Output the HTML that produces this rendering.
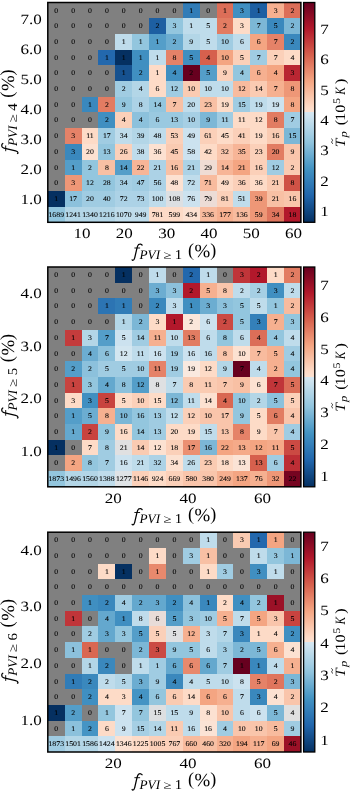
<!DOCTYPE html><html><head><meta charset="utf-8"><style>html,body{margin:0;padding:0;background:#fff;width:350px;height:792px;overflow:hidden}svg{display:block;will-change:transform;text-rendering:geometricPrecision;font-family:"Liberation Serif",serif}</style></head><body>
<svg width="350" height="792" viewBox="0 0 350 792">
<defs><linearGradient id="cb" x1="0" y1="1" x2="0" y2="0">
<stop offset="0.000" stop-color="#053061"/>
<stop offset="0.010" stop-color="#073467"/>
<stop offset="0.020" stop-color="#0a396d"/>
<stop offset="0.030" stop-color="#0c3d73"/>
<stop offset="0.040" stop-color="#0e427a"/>
<stop offset="0.050" stop-color="#104680"/>
<stop offset="0.060" stop-color="#134b86"/>
<stop offset="0.070" stop-color="#154f8c"/>
<stop offset="0.080" stop-color="#175392"/>
<stop offset="0.090" stop-color="#1a5898"/>
<stop offset="0.100" stop-color="#1c5c9e"/>
<stop offset="0.110" stop-color="#1e61a5"/>
<stop offset="0.120" stop-color="#2165ab"/>
<stop offset="0.130" stop-color="#2369ae"/>
<stop offset="0.140" stop-color="#266daf"/>
<stop offset="0.150" stop-color="#2970b1"/>
<stop offset="0.160" stop-color="#2c74b3"/>
<stop offset="0.170" stop-color="#2e78b5"/>
<stop offset="0.180" stop-color="#317bb7"/>
<stop offset="0.190" stop-color="#347fb9"/>
<stop offset="0.200" stop-color="#3783bb"/>
<stop offset="0.210" stop-color="#3a86bd"/>
<stop offset="0.220" stop-color="#3c8abe"/>
<stop offset="0.230" stop-color="#3f8ec0"/>
<stop offset="0.240" stop-color="#4292c2"/>
<stop offset="0.250" stop-color="#4796c4"/>
<stop offset="0.260" stop-color="#4d9ac7"/>
<stop offset="0.270" stop-color="#549ec9"/>
<stop offset="0.280" stop-color="#5aa2cb"/>
<stop offset="0.290" stop-color="#61a6cd"/>
<stop offset="0.300" stop-color="#67aacf"/>
<stop offset="0.310" stop-color="#6eaed2"/>
<stop offset="0.320" stop-color="#74b2d4"/>
<stop offset="0.330" stop-color="#7bb6d6"/>
<stop offset="0.340" stop-color="#81bad8"/>
<stop offset="0.350" stop-color="#88beda"/>
<stop offset="0.360" stop-color="#8ec3dd"/>
<stop offset="0.370" stop-color="#94c6df"/>
<stop offset="0.380" stop-color="#99c9e0"/>
<stop offset="0.390" stop-color="#9ecbe2"/>
<stop offset="0.400" stop-color="#a4cee3"/>
<stop offset="0.410" stop-color="#a9d1e5"/>
<stop offset="0.420" stop-color="#aed3e6"/>
<stop offset="0.430" stop-color="#b3d6e7"/>
<stop offset="0.440" stop-color="#b8d8e9"/>
<stop offset="0.450" stop-color="#bddbea"/>
<stop offset="0.460" stop-color="#c3deec"/>
<stop offset="0.470" stop-color="#c8e0ed"/>
<stop offset="0.480" stop-color="#cde3ef"/>
<stop offset="0.490" stop-color="#d2e5f0"/>
<stop offset="0.500" stop-color="#d5e7f1"/>
<stop offset="0.500" stop-color="#fce1d1"/>
<stop offset="0.510" stop-color="#fcdecd"/>
<stop offset="0.520" stop-color="#fddcc9"/>
<stop offset="0.530" stop-color="#fdd8c3"/>
<stop offset="0.540" stop-color="#fcd4be"/>
<stop offset="0.550" stop-color="#fbcfb8"/>
<stop offset="0.560" stop-color="#facbb2"/>
<stop offset="0.570" stop-color="#fac6ac"/>
<stop offset="0.580" stop-color="#f9c2a6"/>
<stop offset="0.590" stop-color="#f8bda1"/>
<stop offset="0.600" stop-color="#f7b89b"/>
<stop offset="0.610" stop-color="#f6b495"/>
<stop offset="0.620" stop-color="#f6af8f"/>
<stop offset="0.630" stop-color="#f5ab89"/>
<stop offset="0.640" stop-color="#f4a684"/>
<stop offset="0.650" stop-color="#f2a17f"/>
<stop offset="0.660" stop-color="#f09b7a"/>
<stop offset="0.670" stop-color="#ed9576"/>
<stop offset="0.680" stop-color="#eb8f71"/>
<stop offset="0.690" stop-color="#e88a6d"/>
<stop offset="0.700" stop-color="#e68469"/>
<stop offset="0.710" stop-color="#e37e64"/>
<stop offset="0.720" stop-color="#e17860"/>
<stop offset="0.730" stop-color="#de725b"/>
<stop offset="0.740" stop-color="#dc6d57"/>
<stop offset="0.750" stop-color="#d96752"/>
<stop offset="0.760" stop-color="#d6614e"/>
<stop offset="0.770" stop-color="#d45b4b"/>
<stop offset="0.780" stop-color="#d15548"/>
<stop offset="0.790" stop-color="#ce4f45"/>
<stop offset="0.800" stop-color="#ca4942"/>
<stop offset="0.810" stop-color="#c7433f"/>
<stop offset="0.820" stop-color="#c43d3c"/>
<stop offset="0.830" stop-color="#c1373a"/>
<stop offset="0.840" stop-color="#be3137"/>
<stop offset="0.850" stop-color="#bb2b34"/>
<stop offset="0.860" stop-color="#b82531"/>
<stop offset="0.870" stop-color="#b51f2e"/>
<stop offset="0.880" stop-color="#b2192b"/>
<stop offset="0.890" stop-color="#ac162a"/>
<stop offset="0.900" stop-color="#a61429"/>
<stop offset="0.910" stop-color="#a01228"/>
<stop offset="0.920" stop-color="#991027"/>
<stop offset="0.930" stop-color="#930e26"/>
<stop offset="0.940" stop-color="#8d0c25"/>
<stop offset="0.950" stop-color="#860a24"/>
<stop offset="0.960" stop-color="#800823"/>
<stop offset="0.970" stop-color="#7a0622"/>
<stop offset="0.980" stop-color="#740421"/>
<stop offset="0.990" stop-color="#6d0220"/>
<stop offset="1.000" stop-color="#67001f"/>
</linearGradient></defs>
<g shape-rendering="crispEdges">
<rect x="47.80" y="2.50" width="16.87" height="15.70" fill="#808080"/>
<rect x="64.67" y="2.50" width="16.87" height="15.70" fill="#808080"/>
<rect x="81.55" y="2.50" width="16.87" height="15.70" fill="#808080"/>
<rect x="98.42" y="2.50" width="16.87" height="15.70" fill="#808080"/>
<rect x="115.29" y="2.50" width="16.87" height="15.70" fill="#808080"/>
<rect x="132.17" y="2.50" width="16.87" height="15.70" fill="#808080"/>
<rect x="149.04" y="2.50" width="16.87" height="15.70" fill="#808080"/>
<rect x="165.91" y="2.50" width="16.87" height="15.70" fill="#808080"/>
<rect x="182.79" y="2.50" width="16.87" height="15.70" fill="#317cb7"/>
<rect x="199.66" y="2.50" width="16.87" height="15.70" fill="#808080"/>
<rect x="216.53" y="2.50" width="16.87" height="15.70" fill="#dc6e58"/>
<rect x="233.41" y="2.50" width="16.87" height="15.70" fill="#408fc1"/>
<rect x="250.28" y="2.50" width="16.87" height="15.70" fill="#1d5fa2"/>
<rect x="267.15" y="2.50" width="16.87" height="15.70" fill="#f6b090"/>
<rect x="284.03" y="2.50" width="16.87" height="15.70" fill="#dc6e58"/>
<rect x="47.80" y="18.20" width="16.87" height="15.70" fill="#808080"/>
<rect x="64.67" y="18.20" width="16.87" height="15.70" fill="#808080"/>
<rect x="81.55" y="18.20" width="16.87" height="15.70" fill="#808080"/>
<rect x="98.42" y="18.20" width="16.87" height="15.70" fill="#808080"/>
<rect x="115.29" y="18.20" width="16.87" height="15.70" fill="#808080"/>
<rect x="132.17" y="18.20" width="16.87" height="15.70" fill="#808080"/>
<rect x="149.04" y="18.20" width="16.87" height="15.70" fill="#1d5fa2"/>
<rect x="165.91" y="18.20" width="16.87" height="15.70" fill="#93c6de"/>
<rect x="182.79" y="18.20" width="16.87" height="15.70" fill="#bfdceb"/>
<rect x="199.66" y="18.20" width="16.87" height="15.70" fill="#bfdceb"/>
<rect x="216.53" y="18.20" width="16.87" height="15.70" fill="#e27c62"/>
<rect x="233.41" y="18.20" width="16.87" height="15.70" fill="#fddbc7"/>
<rect x="250.28" y="18.20" width="16.87" height="15.70" fill="#7cb7d6"/>
<rect x="267.15" y="18.20" width="16.87" height="15.70" fill="#3a88bd"/>
<rect x="284.03" y="18.20" width="16.87" height="15.70" fill="#7cb7d6"/>
<rect x="47.80" y="33.90" width="16.87" height="15.70" fill="#808080"/>
<rect x="64.67" y="33.90" width="16.87" height="15.70" fill="#808080"/>
<rect x="81.55" y="33.90" width="16.87" height="15.70" fill="#808080"/>
<rect x="98.42" y="33.90" width="16.87" height="15.70" fill="#808080"/>
<rect x="115.29" y="33.90" width="16.87" height="15.70" fill="#bfdceb"/>
<rect x="132.17" y="33.90" width="16.87" height="15.70" fill="#93c6de"/>
<rect x="149.04" y="33.90" width="16.87" height="15.70" fill="#549ec9"/>
<rect x="165.91" y="33.90" width="16.87" height="15.70" fill="#6cadd1"/>
<rect x="182.79" y="33.90" width="16.87" height="15.70" fill="#b3d6e7"/>
<rect x="199.66" y="33.90" width="16.87" height="15.70" fill="#bfdceb"/>
<rect x="216.53" y="33.90" width="16.87" height="15.70" fill="#a0cce2"/>
<rect x="233.41" y="33.90" width="16.87" height="15.70" fill="#bfdceb"/>
<rect x="250.28" y="33.90" width="16.87" height="15.70" fill="#f4a582"/>
<rect x="267.15" y="33.90" width="16.87" height="15.70" fill="#e58268"/>
<rect x="284.03" y="33.90" width="16.87" height="15.70" fill="#3a88bd"/>
<rect x="47.80" y="49.60" width="16.87" height="15.70" fill="#808080"/>
<rect x="64.67" y="49.60" width="16.87" height="15.70" fill="#808080"/>
<rect x="81.55" y="49.60" width="16.87" height="15.70" fill="#808080"/>
<rect x="98.42" y="49.60" width="16.87" height="15.70" fill="#2368ad"/>
<rect x="115.29" y="49.60" width="16.87" height="15.70" fill="#053061"/>
<rect x="132.17" y="49.60" width="16.87" height="15.70" fill="#408fc1"/>
<rect x="149.04" y="49.60" width="16.87" height="15.70" fill="#bfdceb"/>
<rect x="165.91" y="49.60" width="16.87" height="15.70" fill="#e58268"/>
<rect x="182.79" y="49.60" width="16.87" height="15.70" fill="#408fc1"/>
<rect x="199.66" y="49.60" width="16.87" height="15.70" fill="#d6604d"/>
<rect x="216.53" y="49.60" width="16.87" height="15.70" fill="#f4a582"/>
<rect x="233.41" y="49.60" width="16.87" height="15.70" fill="#fbd0b9"/>
<rect x="250.28" y="49.60" width="16.87" height="15.70" fill="#a0cce2"/>
<rect x="267.15" y="49.60" width="16.87" height="15.70" fill="#fbd0b9"/>
<rect x="284.03" y="49.60" width="16.87" height="15.70" fill="#fddbc7"/>
<rect x="47.80" y="65.30" width="16.87" height="15.70" fill="#808080"/>
<rect x="64.67" y="65.30" width="16.87" height="15.70" fill="#808080"/>
<rect x="81.55" y="65.30" width="16.87" height="15.70" fill="#808080"/>
<rect x="98.42" y="65.30" width="16.87" height="15.70" fill="#808080"/>
<rect x="115.29" y="65.30" width="16.87" height="15.70" fill="#16518f"/>
<rect x="132.17" y="65.30" width="16.87" height="15.70" fill="#408fc1"/>
<rect x="149.04" y="65.30" width="16.87" height="15.70" fill="#fddbc7"/>
<rect x="165.91" y="65.30" width="16.87" height="15.70" fill="#408fc1"/>
<rect x="182.79" y="65.30" width="16.87" height="15.70" fill="#67001f"/>
<rect x="199.66" y="65.30" width="16.87" height="15.70" fill="#549ec9"/>
<rect x="216.53" y="65.30" width="16.87" height="15.70" fill="#fbd0b9"/>
<rect x="233.41" y="65.30" width="16.87" height="15.70" fill="#93c6de"/>
<rect x="250.28" y="65.30" width="16.87" height="15.70" fill="#f6b090"/>
<rect x="267.15" y="65.30" width="16.87" height="15.70" fill="#f4a582"/>
<rect x="284.03" y="65.30" width="16.87" height="15.70" fill="#b92632"/>
<rect x="47.80" y="81.00" width="16.87" height="15.70" fill="#808080"/>
<rect x="64.67" y="81.00" width="16.87" height="15.70" fill="#808080"/>
<rect x="81.55" y="81.00" width="16.87" height="15.70" fill="#808080"/>
<rect x="98.42" y="81.00" width="16.87" height="15.70" fill="#808080"/>
<rect x="115.29" y="81.00" width="16.87" height="15.70" fill="#a0cce2"/>
<rect x="132.17" y="81.00" width="16.87" height="15.70" fill="#b3d6e7"/>
<rect x="149.04" y="81.00" width="16.87" height="15.70" fill="#fddbc7"/>
<rect x="165.91" y="81.00" width="16.87" height="15.70" fill="#a0cce2"/>
<rect x="182.79" y="81.00" width="16.87" height="15.70" fill="#facbb2"/>
<rect x="199.66" y="81.00" width="16.87" height="15.70" fill="#bfdceb"/>
<rect x="216.53" y="81.00" width="16.87" height="15.70" fill="#bfdceb"/>
<rect x="233.41" y="81.00" width="16.87" height="15.70" fill="#f8bb9e"/>
<rect x="250.28" y="81.00" width="16.87" height="15.70" fill="#facbb2"/>
<rect x="267.15" y="81.00" width="16.87" height="15.70" fill="#f6b090"/>
<rect x="284.03" y="81.00" width="16.87" height="15.70" fill="#ee9777"/>
<rect x="47.80" y="96.70" width="16.87" height="15.70" fill="#808080"/>
<rect x="64.67" y="96.70" width="16.87" height="15.70" fill="#808080"/>
<rect x="81.55" y="96.70" width="16.87" height="15.70" fill="#3a88bd"/>
<rect x="98.42" y="96.70" width="16.87" height="15.70" fill="#e27c62"/>
<rect x="115.29" y="96.70" width="16.87" height="15.70" fill="#93c6de"/>
<rect x="132.17" y="96.70" width="16.87" height="15.70" fill="#acd2e6"/>
<rect x="149.04" y="96.70" width="16.87" height="15.70" fill="#93c6de"/>
<rect x="165.91" y="96.70" width="16.87" height="15.70" fill="#f8c0a4"/>
<rect x="182.79" y="96.70" width="16.87" height="15.70" fill="#bfdceb"/>
<rect x="199.66" y="96.70" width="16.87" height="15.70" fill="#f8c0a4"/>
<rect x="216.53" y="96.70" width="16.87" height="15.70" fill="#fddbc7"/>
<rect x="233.41" y="96.70" width="16.87" height="15.70" fill="#a0cce2"/>
<rect x="250.28" y="96.70" width="16.87" height="15.70" fill="#bfdceb"/>
<rect x="267.15" y="96.70" width="16.87" height="15.70" fill="#cce2ef"/>
<rect x="284.03" y="96.70" width="16.87" height="15.70" fill="#f4a582"/>
<rect x="47.80" y="112.40" width="16.87" height="15.70" fill="#808080"/>
<rect x="64.67" y="112.40" width="16.87" height="15.70" fill="#808080"/>
<rect x="81.55" y="112.40" width="16.87" height="15.70" fill="#808080"/>
<rect x="98.42" y="112.40" width="16.87" height="15.70" fill="#408fc1"/>
<rect x="115.29" y="112.40" width="16.87" height="15.70" fill="#fbd0b9"/>
<rect x="132.17" y="112.40" width="16.87" height="15.70" fill="#8cc1dc"/>
<rect x="149.04" y="112.40" width="16.87" height="15.70" fill="#9ac9e0"/>
<rect x="165.91" y="112.40" width="16.87" height="15.70" fill="#9ac9e0"/>
<rect x="182.79" y="112.40" width="16.87" height="15.70" fill="#a6cfe4"/>
<rect x="199.66" y="112.40" width="16.87" height="15.70" fill="#7cb7d6"/>
<rect x="216.53" y="112.40" width="16.87" height="15.70" fill="#a0cce2"/>
<rect x="233.41" y="112.40" width="16.87" height="15.70" fill="#fddbc7"/>
<rect x="250.28" y="112.40" width="16.87" height="15.70" fill="#fddbc7"/>
<rect x="267.15" y="112.40" width="16.87" height="15.70" fill="#e27c62"/>
<rect x="284.03" y="112.40" width="16.87" height="15.70" fill="#a0cce2"/>
<rect x="47.80" y="128.10" width="16.87" height="15.70" fill="#808080"/>
<rect x="64.67" y="128.10" width="16.87" height="15.70" fill="#e58268"/>
<rect x="81.55" y="128.10" width="16.87" height="15.70" fill="#fddbc7"/>
<rect x="98.42" y="128.10" width="16.87" height="15.70" fill="#a0cce2"/>
<rect x="115.29" y="128.10" width="16.87" height="15.70" fill="#bfdceb"/>
<rect x="132.17" y="128.10" width="16.87" height="15.70" fill="#b3d6e7"/>
<rect x="149.04" y="128.10" width="16.87" height="15.70" fill="#bfdceb"/>
<rect x="165.91" y="128.10" width="16.87" height="15.70" fill="#fbd0b9"/>
<rect x="182.79" y="128.10" width="16.87" height="15.70" fill="#cce2ef"/>
<rect x="199.66" y="128.10" width="16.87" height="15.70" fill="#fbd0b9"/>
<rect x="216.53" y="128.10" width="16.87" height="15.70" fill="#fddbc7"/>
<rect x="233.41" y="128.10" width="16.87" height="15.70" fill="#fbd0b9"/>
<rect x="250.28" y="128.10" width="16.87" height="15.70" fill="#fddbc7"/>
<rect x="267.15" y="128.10" width="16.87" height="15.70" fill="#facbb2"/>
<rect x="284.03" y="128.10" width="16.87" height="15.70" fill="#7cb7d6"/>
<rect x="47.80" y="143.80" width="16.87" height="15.70" fill="#808080"/>
<rect x="64.67" y="143.80" width="16.87" height="15.70" fill="#3a88bd"/>
<rect x="81.55" y="143.80" width="16.87" height="15.70" fill="#fce1d1"/>
<rect x="98.42" y="143.80" width="16.87" height="15.70" fill="#93c6de"/>
<rect x="115.29" y="143.80" width="16.87" height="15.70" fill="#fbd0b9"/>
<rect x="132.17" y="143.80" width="16.87" height="15.70" fill="#bfdceb"/>
<rect x="149.04" y="143.80" width="16.87" height="15.70" fill="#fce1d1"/>
<rect x="165.91" y="143.80" width="16.87" height="15.70" fill="#facbb2"/>
<rect x="182.79" y="143.80" width="16.87" height="15.70" fill="#cce2ef"/>
<rect x="199.66" y="143.80" width="16.87" height="15.70" fill="#fddbc7"/>
<rect x="216.53" y="143.80" width="16.87" height="15.70" fill="#f9c5ab"/>
<rect x="233.41" y="143.80" width="16.87" height="15.70" fill="#f7b597"/>
<rect x="250.28" y="143.80" width="16.87" height="15.70" fill="#fbd0b9"/>
<rect x="267.15" y="143.80" width="16.87" height="15.70" fill="#e27c62"/>
<rect x="284.03" y="143.80" width="16.87" height="15.70" fill="#f9c5ab"/>
<rect x="47.80" y="159.50" width="16.87" height="15.70" fill="#808080"/>
<rect x="64.67" y="159.50" width="16.87" height="15.70" fill="#549ec9"/>
<rect x="81.55" y="159.50" width="16.87" height="15.70" fill="#93c6de"/>
<rect x="98.42" y="159.50" width="16.87" height="15.70" fill="#f8c0a4"/>
<rect x="115.29" y="159.50" width="16.87" height="15.70" fill="#549ec9"/>
<rect x="132.17" y="159.50" width="16.87" height="15.70" fill="#f7b597"/>
<rect x="149.04" y="159.50" width="16.87" height="15.70" fill="#acd2e6"/>
<rect x="165.91" y="159.50" width="16.87" height="15.70" fill="#f8c0a4"/>
<rect x="182.79" y="159.50" width="16.87" height="15.70" fill="#acd2e6"/>
<rect x="199.66" y="159.50" width="16.87" height="15.70" fill="#efdcd4"/>
<rect x="216.53" y="159.50" width="16.87" height="15.70" fill="#f7b597"/>
<rect x="233.41" y="159.50" width="16.87" height="15.70" fill="#f4a582"/>
<rect x="250.28" y="159.50" width="16.87" height="15.70" fill="#fbd0b9"/>
<rect x="267.15" y="159.50" width="16.87" height="15.70" fill="#a0cce2"/>
<rect x="284.03" y="159.50" width="16.87" height="15.70" fill="#facbb2"/>
<rect x="47.80" y="175.20" width="16.87" height="15.70" fill="#808080"/>
<rect x="64.67" y="175.20" width="16.87" height="15.70" fill="#ee9777"/>
<rect x="81.55" y="175.20" width="16.87" height="15.70" fill="#93c6de"/>
<rect x="98.42" y="175.20" width="16.87" height="15.70" fill="#93c6de"/>
<rect x="115.29" y="175.20" width="16.87" height="15.70" fill="#a6cfe4"/>
<rect x="132.17" y="175.20" width="16.87" height="15.70" fill="#a0cce2"/>
<rect x="149.04" y="175.20" width="16.87" height="15.70" fill="#acd2e6"/>
<rect x="165.91" y="175.20" width="16.87" height="15.70" fill="#fce1d1"/>
<rect x="182.79" y="175.20" width="16.87" height="15.70" fill="#bfdceb"/>
<rect x="199.66" y="175.20" width="16.87" height="15.70" fill="#f8bb9e"/>
<rect x="216.53" y="175.20" width="16.87" height="15.70" fill="#fddbc7"/>
<rect x="233.41" y="175.20" width="16.87" height="15.70" fill="#fbd0b9"/>
<rect x="250.28" y="175.20" width="16.87" height="15.70" fill="#fddbc7"/>
<rect x="267.15" y="175.20" width="16.87" height="15.70" fill="#facbb2"/>
<rect x="284.03" y="175.20" width="16.87" height="15.70" fill="#cf5246"/>
<rect x="47.80" y="190.90" width="16.87" height="15.70" fill="#053061"/>
<rect x="64.67" y="190.90" width="16.87" height="15.70" fill="#8cc1dc"/>
<rect x="81.55" y="190.90" width="16.87" height="15.70" fill="#a0cce2"/>
<rect x="98.42" y="190.90" width="16.87" height="15.70" fill="#a0cce2"/>
<rect x="115.29" y="190.90" width="16.87" height="15.70" fill="#acd2e6"/>
<rect x="132.17" y="190.90" width="16.87" height="15.70" fill="#acd2e6"/>
<rect x="149.04" y="190.90" width="16.87" height="15.70" fill="#bfdceb"/>
<rect x="165.91" y="190.90" width="16.87" height="15.70" fill="#dcdfe2"/>
<rect x="182.79" y="190.90" width="16.87" height="15.70" fill="#cce2ef"/>
<rect x="199.66" y="190.90" width="16.87" height="15.70" fill="#ecdcd6"/>
<rect x="216.53" y="190.90" width="16.87" height="15.70" fill="#fbd0b9"/>
<rect x="233.41" y="190.90" width="16.87" height="15.70" fill="#bfdceb"/>
<rect x="250.28" y="190.90" width="16.87" height="15.70" fill="#ee9777"/>
<rect x="267.15" y="190.90" width="16.87" height="15.70" fill="#f8c0a4"/>
<rect x="284.03" y="190.90" width="16.87" height="15.70" fill="#f9c5ab"/>
<rect x="47.80" y="206.60" width="16.87" height="15.70" fill="#93c6de"/>
<rect x="64.67" y="206.60" width="16.87" height="15.70" fill="#b3d6e7"/>
<rect x="81.55" y="206.60" width="16.87" height="15.70" fill="#b3d6e7"/>
<rect x="98.42" y="206.60" width="16.87" height="15.70" fill="#b3d6e7"/>
<rect x="115.29" y="206.60" width="16.87" height="15.70" fill="#bfdceb"/>
<rect x="132.17" y="206.60" width="16.87" height="15.70" fill="#bfdceb"/>
<rect x="149.04" y="206.60" width="16.87" height="15.70" fill="#fddbc7"/>
<rect x="165.91" y="206.60" width="16.87" height="15.70" fill="#fddbc7"/>
<rect x="182.79" y="206.60" width="16.87" height="15.70" fill="#fce1d1"/>
<rect x="199.66" y="206.60" width="16.87" height="15.70" fill="#f8bb9e"/>
<rect x="216.53" y="206.60" width="16.87" height="15.70" fill="#f6b090"/>
<rect x="233.41" y="206.60" width="16.87" height="15.70" fill="#f8bb9e"/>
<rect x="250.28" y="206.60" width="16.87" height="15.70" fill="#ee9777"/>
<rect x="267.15" y="206.60" width="16.87" height="15.70" fill="#df755d"/>
<rect x="284.03" y="206.60" width="16.87" height="15.70" fill="#b2182b"/>
</g>
<g font-size="7.1" text-anchor="middle" fill="#000" stroke="#000" stroke-width="0.08">
<text transform="translate(56.24,12.55) scale(1.1,1)">0</text>
<text transform="translate(73.11,12.55) scale(1.1,1)">0</text>
<text transform="translate(89.98,12.55) scale(1.1,1)">0</text>
<text transform="translate(106.86,12.55) scale(1.1,1)">0</text>
<text transform="translate(123.73,12.55) scale(1.1,1)">0</text>
<text transform="translate(140.60,12.55) scale(1.1,1)">0</text>
<text transform="translate(157.48,12.55) scale(1.1,1)">0</text>
<text transform="translate(174.35,12.55) scale(1.1,1)">0</text>
<text transform="translate(191.22,12.55) scale(1.1,1)">1</text>
<text transform="translate(208.10,12.55) scale(1.1,1)">0</text>
<text transform="translate(224.97,12.55) scale(1.1,1)">1</text>
<text transform="translate(241.84,12.55) scale(1.1,1)">3</text>
<text transform="translate(258.72,12.55) scale(1.1,1)">1</text>
<text transform="translate(275.59,12.55) scale(1.1,1)">3</text>
<text transform="translate(292.46,12.55) scale(1.1,1)">2</text>
<text transform="translate(56.24,28.25) scale(1.1,1)">0</text>
<text transform="translate(73.11,28.25) scale(1.1,1)">0</text>
<text transform="translate(89.98,28.25) scale(1.1,1)">0</text>
<text transform="translate(106.86,28.25) scale(1.1,1)">0</text>
<text transform="translate(123.73,28.25) scale(1.1,1)">0</text>
<text transform="translate(140.60,28.25) scale(1.1,1)">0</text>
<text transform="translate(157.48,28.25) scale(1.1,1)">2</text>
<text transform="translate(174.35,28.25) scale(1.1,1)">3</text>
<text transform="translate(191.22,28.25) scale(1.1,1)">1</text>
<text transform="translate(208.10,28.25) scale(1.1,1)">5</text>
<text transform="translate(224.97,28.25) scale(1.1,1)">2</text>
<text transform="translate(241.84,28.25) scale(1.1,1)">3</text>
<text transform="translate(258.72,28.25) scale(1.1,1)">7</text>
<text transform="translate(275.59,28.25) scale(1.1,1)">5</text>
<text transform="translate(292.46,28.25) scale(1.1,1)">2</text>
<text transform="translate(56.24,43.95) scale(1.1,1)">0</text>
<text transform="translate(73.11,43.95) scale(1.1,1)">0</text>
<text transform="translate(89.98,43.95) scale(1.1,1)">0</text>
<text transform="translate(106.86,43.95) scale(1.1,1)">0</text>
<text transform="translate(123.73,43.95) scale(1.1,1)">1</text>
<text transform="translate(140.60,43.95) scale(1.1,1)">1</text>
<text transform="translate(157.48,43.95) scale(1.1,1)">1</text>
<text transform="translate(174.35,43.95) scale(1.1,1)">2</text>
<text transform="translate(191.22,43.95) scale(1.1,1)">9</text>
<text transform="translate(208.10,43.95) scale(1.1,1)">5</text>
<text transform="translate(224.97,43.95) scale(1.1,1)">10</text>
<text transform="translate(241.84,43.95) scale(1.1,1)">6</text>
<text transform="translate(258.72,43.95) scale(1.1,1)">6</text>
<text transform="translate(275.59,43.95) scale(1.1,1)">7</text>
<text transform="translate(292.46,43.95) scale(1.1,1)">2</text>
<text transform="translate(56.24,59.65) scale(1.1,1)">0</text>
<text transform="translate(73.11,59.65) scale(1.1,1)">0</text>
<text transform="translate(89.98,59.65) scale(1.1,1)">0</text>
<text transform="translate(106.86,59.65) scale(1.1,1)">1</text>
<text transform="translate(123.73,59.65) scale(1.1,1)">1</text>
<text transform="translate(140.60,59.65) scale(1.1,1)">1</text>
<text transform="translate(157.48,59.65) scale(1.1,1)">1</text>
<text transform="translate(174.35,59.65) scale(1.1,1)">8</text>
<text transform="translate(191.22,59.65) scale(1.1,1)">5</text>
<text transform="translate(208.10,59.65) scale(1.1,1)">4</text>
<text transform="translate(224.97,59.65) scale(1.1,1)">10</text>
<text transform="translate(241.84,59.65) scale(1.1,1)">5</text>
<text transform="translate(258.72,59.65) scale(1.1,1)">7</text>
<text transform="translate(275.59,59.65) scale(1.1,1)">7</text>
<text transform="translate(292.46,59.65) scale(1.1,1)">4</text>
<text transform="translate(56.24,75.35) scale(1.1,1)">0</text>
<text transform="translate(73.11,75.35) scale(1.1,1)">0</text>
<text transform="translate(89.98,75.35) scale(1.1,1)">0</text>
<text transform="translate(106.86,75.35) scale(1.1,1)">0</text>
<text transform="translate(123.73,75.35) scale(1.1,1)">1</text>
<text transform="translate(140.60,75.35) scale(1.1,1)">2</text>
<text transform="translate(157.48,75.35) scale(1.1,1)">1</text>
<text transform="translate(174.35,75.35) scale(1.1,1)">4</text>
<text transform="translate(191.22,75.35) scale(1.1,1)">2</text>
<text transform="translate(208.10,75.35) scale(1.1,1)">5</text>
<text transform="translate(224.97,75.35) scale(1.1,1)">9</text>
<text transform="translate(241.84,75.35) scale(1.1,1)">4</text>
<text transform="translate(258.72,75.35) scale(1.1,1)">6</text>
<text transform="translate(275.59,75.35) scale(1.1,1)">4</text>
<text transform="translate(292.46,75.35) scale(1.1,1)">3</text>
<text transform="translate(56.24,91.05) scale(1.1,1)">0</text>
<text transform="translate(73.11,91.05) scale(1.1,1)">0</text>
<text transform="translate(89.98,91.05) scale(1.1,1)">0</text>
<text transform="translate(106.86,91.05) scale(1.1,1)">0</text>
<text transform="translate(123.73,91.05) scale(1.1,1)">2</text>
<text transform="translate(140.60,91.05) scale(1.1,1)">4</text>
<text transform="translate(157.48,91.05) scale(1.1,1)">6</text>
<text transform="translate(174.35,91.05) scale(1.1,1)">12</text>
<text transform="translate(191.22,91.05) scale(1.1,1)">10</text>
<text transform="translate(208.10,91.05) scale(1.1,1)">10</text>
<text transform="translate(224.97,91.05) scale(1.1,1)">10</text>
<text transform="translate(241.84,91.05) scale(1.1,1)">12</text>
<text transform="translate(258.72,91.05) scale(1.1,1)">14</text>
<text transform="translate(275.59,91.05) scale(1.1,1)">7</text>
<text transform="translate(292.46,91.05) scale(1.1,1)">8</text>
<text transform="translate(56.24,106.75) scale(1.1,1)">0</text>
<text transform="translate(73.11,106.75) scale(1.1,1)">0</text>
<text transform="translate(89.98,106.75) scale(1.1,1)">1</text>
<text transform="translate(106.86,106.75) scale(1.1,1)">2</text>
<text transform="translate(123.73,106.75) scale(1.1,1)">9</text>
<text transform="translate(140.60,106.75) scale(1.1,1)">8</text>
<text transform="translate(157.48,106.75) scale(1.1,1)">14</text>
<text transform="translate(174.35,106.75) scale(1.1,1)">7</text>
<text transform="translate(191.22,106.75) scale(1.1,1)">20</text>
<text transform="translate(208.10,106.75) scale(1.1,1)">23</text>
<text transform="translate(224.97,106.75) scale(1.1,1)">19</text>
<text transform="translate(241.84,106.75) scale(1.1,1)">15</text>
<text transform="translate(258.72,106.75) scale(1.1,1)">19</text>
<text transform="translate(275.59,106.75) scale(1.1,1)">19</text>
<text transform="translate(292.46,106.75) scale(1.1,1)">8</text>
<text transform="translate(56.24,122.45) scale(1.1,1)">0</text>
<text transform="translate(73.11,122.45) scale(1.1,1)">0</text>
<text transform="translate(89.98,122.45) scale(1.1,1)">0</text>
<text transform="translate(106.86,122.45) scale(1.1,1)">2</text>
<text transform="translate(123.73,122.45) scale(1.1,1)">4</text>
<text transform="translate(140.60,122.45) scale(1.1,1)">4</text>
<text transform="translate(157.48,122.45) scale(1.1,1)">6</text>
<text transform="translate(174.35,122.45) scale(1.1,1)">13</text>
<text transform="translate(191.22,122.45) scale(1.1,1)">10</text>
<text transform="translate(208.10,122.45) scale(1.1,1)">9</text>
<text transform="translate(224.97,122.45) scale(1.1,1)">11</text>
<text transform="translate(241.84,122.45) scale(1.1,1)">11</text>
<text transform="translate(258.72,122.45) scale(1.1,1)">12</text>
<text transform="translate(275.59,122.45) scale(1.1,1)">8</text>
<text transform="translate(292.46,122.45) scale(1.1,1)">7</text>
<text transform="translate(56.24,138.15) scale(1.1,1)">0</text>
<text transform="translate(73.11,138.15) scale(1.1,1)">3</text>
<text transform="translate(89.98,138.15) scale(1.1,1)">11</text>
<text transform="translate(106.86,138.15) scale(1.1,1)">17</text>
<text transform="translate(123.73,138.15) scale(1.1,1)">34</text>
<text transform="translate(140.60,138.15) scale(1.1,1)">39</text>
<text transform="translate(157.48,138.15) scale(1.1,1)">48</text>
<text transform="translate(174.35,138.15) scale(1.1,1)">53</text>
<text transform="translate(191.22,138.15) scale(1.1,1)">49</text>
<text transform="translate(208.10,138.15) scale(1.1,1)">61</text>
<text transform="translate(224.97,138.15) scale(1.1,1)">45</text>
<text transform="translate(241.84,138.15) scale(1.1,1)">41</text>
<text transform="translate(258.72,138.15) scale(1.1,1)">19</text>
<text transform="translate(275.59,138.15) scale(1.1,1)">16</text>
<text transform="translate(292.46,138.15) scale(1.1,1)">15</text>
<text transform="translate(56.24,153.85) scale(1.1,1)">0</text>
<text transform="translate(73.11,153.85) scale(1.1,1)">3</text>
<text transform="translate(89.98,153.85) scale(1.1,1)">20</text>
<text transform="translate(106.86,153.85) scale(1.1,1)">13</text>
<text transform="translate(123.73,153.85) scale(1.1,1)">26</text>
<text transform="translate(140.60,153.85) scale(1.1,1)">38</text>
<text transform="translate(157.48,153.85) scale(1.1,1)">36</text>
<text transform="translate(174.35,153.85) scale(1.1,1)">45</text>
<text transform="translate(191.22,153.85) scale(1.1,1)">58</text>
<text transform="translate(208.10,153.85) scale(1.1,1)">42</text>
<text transform="translate(224.97,153.85) scale(1.1,1)">32</text>
<text transform="translate(241.84,153.85) scale(1.1,1)">35</text>
<text transform="translate(258.72,153.85) scale(1.1,1)">23</text>
<text transform="translate(275.59,153.85) scale(1.1,1)">20</text>
<text transform="translate(292.46,153.85) scale(1.1,1)">9</text>
<text transform="translate(56.24,169.55) scale(1.1,1)">0</text>
<text transform="translate(73.11,169.55) scale(1.1,1)">1</text>
<text transform="translate(89.98,169.55) scale(1.1,1)">2</text>
<text transform="translate(106.86,169.55) scale(1.1,1)">8</text>
<text transform="translate(123.73,169.55) scale(1.1,1)">14</text>
<text transform="translate(140.60,169.55) scale(1.1,1)">22</text>
<text transform="translate(157.48,169.55) scale(1.1,1)">21</text>
<text transform="translate(174.35,169.55) scale(1.1,1)">16</text>
<text transform="translate(191.22,169.55) scale(1.1,1)">21</text>
<text transform="translate(208.10,169.55) scale(1.1,1)">29</text>
<text transform="translate(224.97,169.55) scale(1.1,1)">14</text>
<text transform="translate(241.84,169.55) scale(1.1,1)">21</text>
<text transform="translate(258.72,169.55) scale(1.1,1)">16</text>
<text transform="translate(275.59,169.55) scale(1.1,1)">12</text>
<text transform="translate(292.46,169.55) scale(1.1,1)">2</text>
<text transform="translate(56.24,185.25) scale(1.1,1)">0</text>
<text transform="translate(73.11,185.25) scale(1.1,1)">3</text>
<text transform="translate(89.98,185.25) scale(1.1,1)">12</text>
<text transform="translate(106.86,185.25) scale(1.1,1)">28</text>
<text transform="translate(123.73,185.25) scale(1.1,1)">34</text>
<text transform="translate(140.60,185.25) scale(1.1,1)">47</text>
<text transform="translate(157.48,185.25) scale(1.1,1)">56</text>
<text transform="translate(174.35,185.25) scale(1.1,1)">48</text>
<text transform="translate(191.22,185.25) scale(1.1,1)">72</text>
<text transform="translate(208.10,185.25) scale(1.1,1)">71</text>
<text transform="translate(224.97,185.25) scale(1.1,1)">49</text>
<text transform="translate(241.84,185.25) scale(1.1,1)">36</text>
<text transform="translate(258.72,185.25) scale(1.1,1)">36</text>
<text transform="translate(275.59,185.25) scale(1.1,1)">21</text>
<text transform="translate(292.46,185.25) scale(1.1,1)">8</text>
<text transform="translate(56.24,200.95) scale(1.1,1)">1</text>
<text transform="translate(73.11,200.95) scale(1.1,1)">17</text>
<text transform="translate(89.98,200.95) scale(1.1,1)">20</text>
<text transform="translate(106.86,200.95) scale(1.1,1)">40</text>
<text transform="translate(123.73,200.95) scale(1.1,1)">72</text>
<text transform="translate(140.60,200.95) scale(1.1,1)">73</text>
<text transform="translate(157.48,200.95) scale(1.1,1)">100</text>
<text transform="translate(174.35,200.95) scale(1.1,1)">108</text>
<text transform="translate(191.22,200.95) scale(1.1,1)">76</text>
<text transform="translate(208.10,200.95) scale(1.1,1)">79</text>
<text transform="translate(224.97,200.95) scale(1.1,1)">81</text>
<text transform="translate(241.84,200.95) scale(1.1,1)">51</text>
<text transform="translate(258.72,200.95) scale(1.1,1)">39</text>
<text transform="translate(275.59,200.95) scale(1.1,1)">21</text>
<text transform="translate(292.46,200.95) scale(1.1,1)">16</text>
<text transform="translate(56.24,216.65) scale(1.1,1)">1689</text>
<text transform="translate(73.11,216.65) scale(1.1,1)">1241</text>
<text transform="translate(89.98,216.65) scale(1.1,1)">1340</text>
<text transform="translate(106.86,216.65) scale(1.1,1)">1216</text>
<text transform="translate(123.73,216.65) scale(1.1,1)">1070</text>
<text transform="translate(140.60,216.65) scale(1.1,1)">949</text>
<text transform="translate(157.48,216.65) scale(1.1,1)">781</text>
<text transform="translate(174.35,216.65) scale(1.1,1)">599</text>
<text transform="translate(191.22,216.65) scale(1.1,1)">434</text>
<text transform="translate(208.10,216.65) scale(1.1,1)">336</text>
<text transform="translate(224.97,216.65) scale(1.1,1)">177</text>
<text transform="translate(241.84,216.65) scale(1.1,1)">136</text>
<text transform="translate(258.72,216.65) scale(1.1,1)">59</text>
<text transform="translate(275.59,216.65) scale(1.1,1)">34</text>
<text transform="translate(292.46,216.65) scale(1.1,1)">18</text>
</g>
<rect x="47.80" y="2.50" width="253.10" height="219.80" fill="none" stroke="#000" stroke-width="1.5"/>
<g shape-rendering="crispEdges">
<rect x="47.80" y="267.00" width="16.87" height="15.70" fill="#808080"/>
<rect x="64.67" y="267.00" width="16.87" height="15.70" fill="#808080"/>
<rect x="81.55" y="267.00" width="16.87" height="15.70" fill="#808080"/>
<rect x="98.42" y="267.00" width="16.87" height="15.70" fill="#808080"/>
<rect x="115.29" y="267.00" width="16.87" height="15.70" fill="#053061"/>
<rect x="132.17" y="267.00" width="16.87" height="15.70" fill="#808080"/>
<rect x="149.04" y="267.00" width="16.87" height="15.70" fill="#bfdceb"/>
<rect x="165.91" y="267.00" width="16.87" height="15.70" fill="#808080"/>
<rect x="182.79" y="267.00" width="16.87" height="15.70" fill="#2368ad"/>
<rect x="199.66" y="267.00" width="16.87" height="15.70" fill="#bfdceb"/>
<rect x="216.53" y="267.00" width="16.87" height="15.70" fill="#808080"/>
<rect x="233.41" y="267.00" width="16.87" height="15.70" fill="#c03539"/>
<rect x="250.28" y="267.00" width="16.87" height="15.70" fill="#b2182b"/>
<rect x="267.15" y="267.00" width="16.87" height="15.70" fill="#fddbc7"/>
<rect x="284.03" y="267.00" width="16.87" height="15.70" fill="#e27c62"/>
<rect x="47.80" y="282.70" width="16.87" height="15.70" fill="#808080"/>
<rect x="64.67" y="282.70" width="16.87" height="15.70" fill="#808080"/>
<rect x="81.55" y="282.70" width="16.87" height="15.70" fill="#808080"/>
<rect x="98.42" y="282.70" width="16.87" height="15.70" fill="#808080"/>
<rect x="115.29" y="282.70" width="16.87" height="15.70" fill="#808080"/>
<rect x="132.17" y="282.70" width="16.87" height="15.70" fill="#808080"/>
<rect x="149.04" y="282.70" width="16.87" height="15.70" fill="#6cadd1"/>
<rect x="165.91" y="282.70" width="16.87" height="15.70" fill="#8cc1dc"/>
<rect x="182.79" y="282.70" width="16.87" height="15.70" fill="#b2182b"/>
<rect x="199.66" y="282.70" width="16.87" height="15.70" fill="#f6b090"/>
<rect x="216.53" y="282.70" width="16.87" height="15.70" fill="#f9c5ab"/>
<rect x="233.41" y="282.70" width="16.87" height="15.70" fill="#bfdceb"/>
<rect x="250.28" y="282.70" width="16.87" height="15.70" fill="#a6cfe4"/>
<rect x="267.15" y="282.70" width="16.87" height="15.70" fill="#408fc1"/>
<rect x="284.03" y="282.70" width="16.87" height="15.70" fill="#bfdceb"/>
<rect x="47.80" y="298.40" width="16.87" height="15.70" fill="#808080"/>
<rect x="64.67" y="298.40" width="16.87" height="15.70" fill="#808080"/>
<rect x="81.55" y="298.40" width="16.87" height="15.70" fill="#808080"/>
<rect x="98.42" y="298.40" width="16.87" height="15.70" fill="#2c74b3"/>
<rect x="115.29" y="298.40" width="16.87" height="15.70" fill="#317cb7"/>
<rect x="132.17" y="298.40" width="16.87" height="15.70" fill="#808080"/>
<rect x="149.04" y="298.40" width="16.87" height="15.70" fill="#3a88bd"/>
<rect x="165.91" y="298.40" width="16.87" height="15.70" fill="#bfdceb"/>
<rect x="182.79" y="298.40" width="16.87" height="15.70" fill="#408fc1"/>
<rect x="199.66" y="298.40" width="16.87" height="15.70" fill="#6cadd1"/>
<rect x="216.53" y="298.40" width="16.87" height="15.70" fill="#8cc1dc"/>
<rect x="233.41" y="298.40" width="16.87" height="15.70" fill="#93c6de"/>
<rect x="250.28" y="298.40" width="16.87" height="15.70" fill="#bfdceb"/>
<rect x="267.15" y="298.40" width="16.87" height="15.70" fill="#93c6de"/>
<rect x="284.03" y="298.40" width="16.87" height="15.70" fill="#f8bb9e"/>
<rect x="47.80" y="314.10" width="16.87" height="15.70" fill="#808080"/>
<rect x="64.67" y="314.10" width="16.87" height="15.70" fill="#808080"/>
<rect x="81.55" y="314.10" width="16.87" height="15.70" fill="#808080"/>
<rect x="98.42" y="314.10" width="16.87" height="15.70" fill="#808080"/>
<rect x="115.29" y="314.10" width="16.87" height="15.70" fill="#b3d6e7"/>
<rect x="132.17" y="314.10" width="16.87" height="15.70" fill="#7cb7d6"/>
<rect x="149.04" y="314.10" width="16.87" height="15.70" fill="#fddbc7"/>
<rect x="165.91" y="314.10" width="16.87" height="15.70" fill="#b2182b"/>
<rect x="182.79" y="314.10" width="16.87" height="15.70" fill="#fbe6da"/>
<rect x="199.66" y="314.10" width="16.87" height="15.70" fill="#cce2ef"/>
<rect x="216.53" y="314.10" width="16.87" height="15.70" fill="#cb4a43"/>
<rect x="233.41" y="314.10" width="16.87" height="15.70" fill="#93c6de"/>
<rect x="250.28" y="314.10" width="16.87" height="15.70" fill="#3480b9"/>
<rect x="267.15" y="314.10" width="16.87" height="15.70" fill="#f6b090"/>
<rect x="284.03" y="314.10" width="16.87" height="15.70" fill="#93c6de"/>
<rect x="47.80" y="329.80" width="16.87" height="15.70" fill="#808080"/>
<rect x="64.67" y="329.80" width="16.87" height="15.70" fill="#c43c3c"/>
<rect x="81.55" y="329.80" width="16.87" height="15.70" fill="#b3d6e7"/>
<rect x="98.42" y="329.80" width="16.87" height="15.70" fill="#549ec9"/>
<rect x="115.29" y="329.80" width="16.87" height="15.70" fill="#cce2ef"/>
<rect x="132.17" y="329.80" width="16.87" height="15.70" fill="#a0cce2"/>
<rect x="149.04" y="329.80" width="16.87" height="15.70" fill="#f6b090"/>
<rect x="165.91" y="329.80" width="16.87" height="15.70" fill="#bfdceb"/>
<rect x="182.79" y="329.80" width="16.87" height="15.70" fill="#e27c62"/>
<rect x="199.66" y="329.80" width="16.87" height="15.70" fill="#bfdceb"/>
<rect x="216.53" y="329.80" width="16.87" height="15.70" fill="#93c6de"/>
<rect x="233.41" y="329.80" width="16.87" height="15.70" fill="#bfdceb"/>
<rect x="250.28" y="329.80" width="16.87" height="15.70" fill="#dc6e58"/>
<rect x="267.15" y="329.80" width="16.87" height="15.70" fill="#93c6de"/>
<rect x="284.03" y="329.80" width="16.87" height="15.70" fill="#bfdceb"/>
<rect x="47.80" y="345.50" width="16.87" height="15.70" fill="#808080"/>
<rect x="64.67" y="345.50" width="16.87" height="15.70" fill="#808080"/>
<rect x="81.55" y="345.50" width="16.87" height="15.70" fill="#6cadd1"/>
<rect x="98.42" y="345.50" width="16.87" height="15.70" fill="#8cc1dc"/>
<rect x="115.29" y="345.50" width="16.87" height="15.70" fill="#d3e6f0"/>
<rect x="132.17" y="345.50" width="16.87" height="15.70" fill="#bfdceb"/>
<rect x="149.04" y="345.50" width="16.87" height="15.70" fill="#cce2ef"/>
<rect x="165.91" y="345.50" width="16.87" height="15.70" fill="#a0cce2"/>
<rect x="182.79" y="345.50" width="16.87" height="15.70" fill="#cce2ef"/>
<rect x="199.66" y="345.50" width="16.87" height="15.70" fill="#bfdceb"/>
<rect x="216.53" y="345.50" width="16.87" height="15.70" fill="#f9c5ab"/>
<rect x="233.41" y="345.50" width="16.87" height="15.70" fill="#fce1d1"/>
<rect x="250.28" y="345.50" width="16.87" height="15.70" fill="#f8bb9e"/>
<rect x="267.15" y="345.50" width="16.87" height="15.70" fill="#f6b090"/>
<rect x="284.03" y="345.50" width="16.87" height="15.70" fill="#a0cce2"/>
<rect x="47.80" y="361.20" width="16.87" height="15.70" fill="#808080"/>
<rect x="64.67" y="361.20" width="16.87" height="15.70" fill="#549ec9"/>
<rect x="81.55" y="361.20" width="16.87" height="15.70" fill="#8cc1dc"/>
<rect x="98.42" y="361.20" width="16.87" height="15.70" fill="#a0cce2"/>
<rect x="115.29" y="361.20" width="16.87" height="15.70" fill="#a0cce2"/>
<rect x="132.17" y="361.20" width="16.87" height="15.70" fill="#a0cce2"/>
<rect x="149.04" y="361.20" width="16.87" height="15.70" fill="#e58268"/>
<rect x="165.91" y="361.20" width="16.87" height="15.70" fill="#a0cce2"/>
<rect x="182.79" y="361.20" width="16.87" height="15.70" fill="#fae9df"/>
<rect x="199.66" y="361.20" width="16.87" height="15.70" fill="#fddbc7"/>
<rect x="216.53" y="361.20" width="16.87" height="15.70" fill="#b3d6e7"/>
<rect x="233.41" y="361.20" width="16.87" height="15.70" fill="#67001f"/>
<rect x="250.28" y="361.20" width="16.87" height="15.70" fill="#bfdceb"/>
<rect x="267.15" y="361.20" width="16.87" height="15.70" fill="#f6b090"/>
<rect x="284.03" y="361.20" width="16.87" height="15.70" fill="#93c6de"/>
<rect x="47.80" y="376.90" width="16.87" height="15.70" fill="#808080"/>
<rect x="64.67" y="376.90" width="16.87" height="15.70" fill="#c8433f"/>
<rect x="81.55" y="376.90" width="16.87" height="15.70" fill="#93c6de"/>
<rect x="98.42" y="376.90" width="16.87" height="15.70" fill="#64a8ce"/>
<rect x="115.29" y="376.90" width="16.87" height="15.70" fill="#8cc1dc"/>
<rect x="132.17" y="376.90" width="16.87" height="15.70" fill="#549ec9"/>
<rect x="149.04" y="376.90" width="16.87" height="15.70" fill="#dfe0e2"/>
<rect x="165.91" y="376.90" width="16.87" height="15.70" fill="#bfdceb"/>
<rect x="182.79" y="376.90" width="16.87" height="15.70" fill="#facbb2"/>
<rect x="199.66" y="376.90" width="16.87" height="15.70" fill="#facbb2"/>
<rect x="216.53" y="376.90" width="16.87" height="15.70" fill="#f9c5ab"/>
<rect x="233.41" y="376.90" width="16.87" height="15.70" fill="#f8c0a4"/>
<rect x="250.28" y="376.90" width="16.87" height="15.70" fill="#fce1d1"/>
<rect x="267.15" y="376.90" width="16.87" height="15.70" fill="#c03539"/>
<rect x="284.03" y="376.90" width="16.87" height="15.70" fill="#dc6e58"/>
<rect x="47.80" y="392.60" width="16.87" height="15.70" fill="#808080"/>
<rect x="64.67" y="392.60" width="16.87" height="15.70" fill="#fddbc7"/>
<rect x="81.55" y="392.60" width="16.87" height="15.70" fill="#408fc1"/>
<rect x="98.42" y="392.60" width="16.87" height="15.70" fill="#c8433f"/>
<rect x="115.29" y="392.60" width="16.87" height="15.70" fill="#fddbc7"/>
<rect x="132.17" y="392.60" width="16.87" height="15.70" fill="#fbd0b9"/>
<rect x="149.04" y="392.60" width="16.87" height="15.70" fill="#fddbc7"/>
<rect x="165.91" y="392.60" width="16.87" height="15.70" fill="#7cb7d6"/>
<rect x="182.79" y="392.60" width="16.87" height="15.70" fill="#bfdceb"/>
<rect x="199.66" y="392.60" width="16.87" height="15.70" fill="#fce1d1"/>
<rect x="216.53" y="392.60" width="16.87" height="15.70" fill="#d96752"/>
<rect x="233.41" y="392.60" width="16.87" height="15.70" fill="#93c6de"/>
<rect x="250.28" y="392.60" width="16.87" height="15.70" fill="#b3d6e7"/>
<rect x="267.15" y="392.60" width="16.87" height="15.70" fill="#8cc1dc"/>
<rect x="284.03" y="392.60" width="16.87" height="15.70" fill="#fbd0b9"/>
<rect x="47.80" y="408.30" width="16.87" height="15.70" fill="#808080"/>
<rect x="64.67" y="408.30" width="16.87" height="15.70" fill="#549ec9"/>
<rect x="81.55" y="408.30" width="16.87" height="15.70" fill="#6cadd1"/>
<rect x="98.42" y="408.30" width="16.87" height="15.70" fill="#f6b090"/>
<rect x="115.29" y="408.30" width="16.87" height="15.70" fill="#7cb7d6"/>
<rect x="132.17" y="408.30" width="16.87" height="15.70" fill="#93c6de"/>
<rect x="149.04" y="408.30" width="16.87" height="15.70" fill="#a0cce2"/>
<rect x="165.91" y="408.30" width="16.87" height="15.70" fill="#bfdceb"/>
<rect x="182.79" y="408.30" width="16.87" height="15.70" fill="#fbd0b9"/>
<rect x="199.66" y="408.30" width="16.87" height="15.70" fill="#f9c5ab"/>
<rect x="216.53" y="408.30" width="16.87" height="15.70" fill="#f9c5ab"/>
<rect x="233.41" y="408.30" width="16.87" height="15.70" fill="#93c6de"/>
<rect x="250.28" y="408.30" width="16.87" height="15.70" fill="#fddbc7"/>
<rect x="267.15" y="408.30" width="16.87" height="15.70" fill="#e27c62"/>
<rect x="284.03" y="408.30" width="16.87" height="15.70" fill="#f9c5ab"/>
<rect x="47.80" y="424.00" width="16.87" height="15.70" fill="#808080"/>
<rect x="64.67" y="424.00" width="16.87" height="15.70" fill="#64a8ce"/>
<rect x="81.55" y="424.00" width="16.87" height="15.70" fill="#c8433f"/>
<rect x="98.42" y="424.00" width="16.87" height="15.70" fill="#93c6de"/>
<rect x="115.29" y="424.00" width="16.87" height="15.70" fill="#fddbc7"/>
<rect x="132.17" y="424.00" width="16.87" height="15.70" fill="#93c6de"/>
<rect x="149.04" y="424.00" width="16.87" height="15.70" fill="#a0cce2"/>
<rect x="165.91" y="424.00" width="16.87" height="15.70" fill="#fddbc7"/>
<rect x="182.79" y="424.00" width="16.87" height="15.70" fill="#fddbc7"/>
<rect x="199.66" y="424.00" width="16.87" height="15.70" fill="#bfdceb"/>
<rect x="216.53" y="424.00" width="16.87" height="15.70" fill="#f9c5ab"/>
<rect x="233.41" y="424.00" width="16.87" height="15.70" fill="#e58268"/>
<rect x="250.28" y="424.00" width="16.87" height="15.70" fill="#fddbc7"/>
<rect x="267.15" y="424.00" width="16.87" height="15.70" fill="#f9c5ab"/>
<rect x="284.03" y="424.00" width="16.87" height="15.70" fill="#a0cce2"/>
<rect x="47.80" y="439.70" width="16.87" height="15.70" fill="#053061"/>
<rect x="64.67" y="439.70" width="16.87" height="15.70" fill="#808080"/>
<rect x="81.55" y="439.70" width="16.87" height="15.70" fill="#fddbc7"/>
<rect x="98.42" y="439.70" width="16.87" height="15.70" fill="#a0cce2"/>
<rect x="115.29" y="439.70" width="16.87" height="15.70" fill="#e0e0e1"/>
<rect x="132.17" y="439.70" width="16.87" height="15.70" fill="#facbb2"/>
<rect x="149.04" y="439.70" width="16.87" height="15.70" fill="#fce1d1"/>
<rect x="165.91" y="439.70" width="16.87" height="15.70" fill="#fbd0b9"/>
<rect x="182.79" y="439.70" width="16.87" height="15.70" fill="#eb9072"/>
<rect x="199.66" y="439.70" width="16.87" height="15.70" fill="#7cb7d6"/>
<rect x="216.53" y="439.70" width="16.87" height="15.70" fill="#f4a582"/>
<rect x="233.41" y="439.70" width="16.87" height="15.70" fill="#f5aa89"/>
<rect x="250.28" y="439.70" width="16.87" height="15.70" fill="#f4a582"/>
<rect x="267.15" y="439.70" width="16.87" height="15.70" fill="#f5aa89"/>
<rect x="284.03" y="439.70" width="16.87" height="15.70" fill="#cb4a43"/>
<rect x="47.80" y="455.40" width="16.87" height="15.70" fill="#808080"/>
<rect x="64.67" y="455.40" width="16.87" height="15.70" fill="#f4a582"/>
<rect x="81.55" y="455.40" width="16.87" height="15.70" fill="#93c6de"/>
<rect x="98.42" y="455.40" width="16.87" height="15.70" fill="#a0cce2"/>
<rect x="115.29" y="455.40" width="16.87" height="15.70" fill="#cce2ef"/>
<rect x="132.17" y="455.40" width="16.87" height="15.70" fill="#bfdceb"/>
<rect x="149.04" y="455.40" width="16.87" height="15.70" fill="#acd2e6"/>
<rect x="165.91" y="455.40" width="16.87" height="15.70" fill="#fce1d1"/>
<rect x="182.79" y="455.40" width="16.87" height="15.70" fill="#bfdceb"/>
<rect x="199.66" y="455.40" width="16.87" height="15.70" fill="#facbb2"/>
<rect x="216.53" y="455.40" width="16.87" height="15.70" fill="#fddbc7"/>
<rect x="233.41" y="455.40" width="16.87" height="15.70" fill="#fbe3d5"/>
<rect x="250.28" y="455.40" width="16.87" height="15.70" fill="#d6604d"/>
<rect x="267.15" y="455.40" width="16.87" height="15.70" fill="#a0cce2"/>
<rect x="284.03" y="455.40" width="16.87" height="15.70" fill="#bd2e35"/>
<rect x="47.80" y="471.10" width="16.87" height="15.70" fill="#93c6de"/>
<rect x="64.67" y="471.10" width="16.87" height="15.70" fill="#b3d6e7"/>
<rect x="81.55" y="471.10" width="16.87" height="15.70" fill="#b3d6e7"/>
<rect x="98.42" y="471.10" width="16.87" height="15.70" fill="#bfdceb"/>
<rect x="115.29" y="471.10" width="16.87" height="15.70" fill="#dfe3e6"/>
<rect x="132.17" y="471.10" width="16.87" height="15.70" fill="#fbd0b9"/>
<rect x="149.04" y="471.10" width="16.87" height="15.70" fill="#fddbc7"/>
<rect x="165.91" y="471.10" width="16.87" height="15.70" fill="#fbd0b9"/>
<rect x="182.79" y="471.10" width="16.87" height="15.70" fill="#f9c5ab"/>
<rect x="199.66" y="471.10" width="16.87" height="15.70" fill="#f9c5ab"/>
<rect x="216.53" y="471.10" width="16.87" height="15.70" fill="#f6b090"/>
<rect x="233.41" y="471.10" width="16.87" height="15.70" fill="#f4a582"/>
<rect x="250.28" y="471.10" width="16.87" height="15.70" fill="#f6b090"/>
<rect x="267.15" y="471.10" width="16.87" height="15.70" fill="#ee9777"/>
<rect x="284.03" y="471.10" width="16.87" height="15.70" fill="#760521"/>
</g>
<g font-size="7.1" text-anchor="middle" fill="#000" stroke="#000" stroke-width="0.08">
<text transform="translate(56.24,277.05) scale(1.1,1)">0</text>
<text transform="translate(73.11,277.05) scale(1.1,1)">0</text>
<text transform="translate(89.98,277.05) scale(1.1,1)">0</text>
<text transform="translate(106.86,277.05) scale(1.1,1)">0</text>
<text transform="translate(123.73,277.05) scale(1.1,1)">1</text>
<text transform="translate(140.60,277.05) scale(1.1,1)">0</text>
<text transform="translate(157.48,277.05) scale(1.1,1)">1</text>
<text transform="translate(174.35,277.05) scale(1.1,1)">0</text>
<text transform="translate(191.22,277.05) scale(1.1,1)">2</text>
<text transform="translate(208.10,277.05) scale(1.1,1)">1</text>
<text transform="translate(224.97,277.05) scale(1.1,1)">0</text>
<text transform="translate(241.84,277.05) scale(1.1,1)">3</text>
<text transform="translate(258.72,277.05) scale(1.1,1)">2</text>
<text transform="translate(275.59,277.05) scale(1.1,1)">1</text>
<text transform="translate(292.46,277.05) scale(1.1,1)">2</text>
<text transform="translate(56.24,292.75) scale(1.1,1)">0</text>
<text transform="translate(73.11,292.75) scale(1.1,1)">0</text>
<text transform="translate(89.98,292.75) scale(1.1,1)">0</text>
<text transform="translate(106.86,292.75) scale(1.1,1)">0</text>
<text transform="translate(123.73,292.75) scale(1.1,1)">0</text>
<text transform="translate(140.60,292.75) scale(1.1,1)">0</text>
<text transform="translate(157.48,292.75) scale(1.1,1)">3</text>
<text transform="translate(174.35,292.75) scale(1.1,1)">3</text>
<text transform="translate(191.22,292.75) scale(1.1,1)">2</text>
<text transform="translate(208.10,292.75) scale(1.1,1)">5</text>
<text transform="translate(224.97,292.75) scale(1.1,1)">8</text>
<text transform="translate(241.84,292.75) scale(1.1,1)">2</text>
<text transform="translate(258.72,292.75) scale(1.1,1)">2</text>
<text transform="translate(275.59,292.75) scale(1.1,1)">3</text>
<text transform="translate(292.46,292.75) scale(1.1,1)">2</text>
<text transform="translate(56.24,308.45) scale(1.1,1)">0</text>
<text transform="translate(73.11,308.45) scale(1.1,1)">0</text>
<text transform="translate(89.98,308.45) scale(1.1,1)">0</text>
<text transform="translate(106.86,308.45) scale(1.1,1)">1</text>
<text transform="translate(123.73,308.45) scale(1.1,1)">1</text>
<text transform="translate(140.60,308.45) scale(1.1,1)">0</text>
<text transform="translate(157.48,308.45) scale(1.1,1)">2</text>
<text transform="translate(174.35,308.45) scale(1.1,1)">3</text>
<text transform="translate(191.22,308.45) scale(1.1,1)">1</text>
<text transform="translate(208.10,308.45) scale(1.1,1)">3</text>
<text transform="translate(224.97,308.45) scale(1.1,1)">3</text>
<text transform="translate(241.84,308.45) scale(1.1,1)">5</text>
<text transform="translate(258.72,308.45) scale(1.1,1)">5</text>
<text transform="translate(275.59,308.45) scale(1.1,1)">1</text>
<text transform="translate(292.46,308.45) scale(1.1,1)">2</text>
<text transform="translate(56.24,324.15) scale(1.1,1)">0</text>
<text transform="translate(73.11,324.15) scale(1.1,1)">0</text>
<text transform="translate(89.98,324.15) scale(1.1,1)">0</text>
<text transform="translate(106.86,324.15) scale(1.1,1)">0</text>
<text transform="translate(123.73,324.15) scale(1.1,1)">1</text>
<text transform="translate(140.60,324.15) scale(1.1,1)">2</text>
<text transform="translate(157.48,324.15) scale(1.1,1)">3</text>
<text transform="translate(174.35,324.15) scale(1.1,1)">1</text>
<text transform="translate(191.22,324.15) scale(1.1,1)">2</text>
<text transform="translate(208.10,324.15) scale(1.1,1)">6</text>
<text transform="translate(224.97,324.15) scale(1.1,1)">2</text>
<text transform="translate(241.84,324.15) scale(1.1,1)">5</text>
<text transform="translate(258.72,324.15) scale(1.1,1)">3</text>
<text transform="translate(275.59,324.15) scale(1.1,1)">7</text>
<text transform="translate(292.46,324.15) scale(1.1,1)">3</text>
<text transform="translate(56.24,339.85) scale(1.1,1)">0</text>
<text transform="translate(73.11,339.85) scale(1.1,1)">1</text>
<text transform="translate(89.98,339.85) scale(1.1,1)">3</text>
<text transform="translate(106.86,339.85) scale(1.1,1)">7</text>
<text transform="translate(123.73,339.85) scale(1.1,1)">5</text>
<text transform="translate(140.60,339.85) scale(1.1,1)">14</text>
<text transform="translate(157.48,339.85) scale(1.1,1)">11</text>
<text transform="translate(174.35,339.85) scale(1.1,1)">10</text>
<text transform="translate(191.22,339.85) scale(1.1,1)">13</text>
<text transform="translate(208.10,339.85) scale(1.1,1)">6</text>
<text transform="translate(224.97,339.85) scale(1.1,1)">8</text>
<text transform="translate(241.84,339.85) scale(1.1,1)">6</text>
<text transform="translate(258.72,339.85) scale(1.1,1)">4</text>
<text transform="translate(275.59,339.85) scale(1.1,1)">4</text>
<text transform="translate(292.46,339.85) scale(1.1,1)">4</text>
<text transform="translate(56.24,355.55) scale(1.1,1)">0</text>
<text transform="translate(73.11,355.55) scale(1.1,1)">0</text>
<text transform="translate(89.98,355.55) scale(1.1,1)">4</text>
<text transform="translate(106.86,355.55) scale(1.1,1)">6</text>
<text transform="translate(123.73,355.55) scale(1.1,1)">12</text>
<text transform="translate(140.60,355.55) scale(1.1,1)">11</text>
<text transform="translate(157.48,355.55) scale(1.1,1)">16</text>
<text transform="translate(174.35,355.55) scale(1.1,1)">19</text>
<text transform="translate(191.22,355.55) scale(1.1,1)">16</text>
<text transform="translate(208.10,355.55) scale(1.1,1)">16</text>
<text transform="translate(224.97,355.55) scale(1.1,1)">8</text>
<text transform="translate(241.84,355.55) scale(1.1,1)">10</text>
<text transform="translate(258.72,355.55) scale(1.1,1)">7</text>
<text transform="translate(275.59,355.55) scale(1.1,1)">5</text>
<text transform="translate(292.46,355.55) scale(1.1,1)">4</text>
<text transform="translate(56.24,371.25) scale(1.1,1)">0</text>
<text transform="translate(73.11,371.25) scale(1.1,1)">2</text>
<text transform="translate(89.98,371.25) scale(1.1,1)">2</text>
<text transform="translate(106.86,371.25) scale(1.1,1)">5</text>
<text transform="translate(123.73,371.25) scale(1.1,1)">5</text>
<text transform="translate(140.60,371.25) scale(1.1,1)">10</text>
<text transform="translate(157.48,371.25) scale(1.1,1)">11</text>
<text transform="translate(174.35,371.25) scale(1.1,1)">19</text>
<text transform="translate(191.22,371.25) scale(1.1,1)">19</text>
<text transform="translate(208.10,371.25) scale(1.1,1)">12</text>
<text transform="translate(224.97,371.25) scale(1.1,1)">9</text>
<text transform="translate(241.84,371.25) scale(1.1,1)">7</text>
<text transform="translate(258.72,371.25) scale(1.1,1)">4</text>
<text transform="translate(275.59,371.25) scale(1.1,1)">2</text>
<text transform="translate(292.46,371.25) scale(1.1,1)">4</text>
<text transform="translate(56.24,386.95) scale(1.1,1)">0</text>
<text transform="translate(73.11,386.95) scale(1.1,1)">1</text>
<text transform="translate(89.98,386.95) scale(1.1,1)">3</text>
<text transform="translate(106.86,386.95) scale(1.1,1)">4</text>
<text transform="translate(123.73,386.95) scale(1.1,1)">8</text>
<text transform="translate(140.60,386.95) scale(1.1,1)">12</text>
<text transform="translate(157.48,386.95) scale(1.1,1)">8</text>
<text transform="translate(174.35,386.95) scale(1.1,1)">7</text>
<text transform="translate(191.22,386.95) scale(1.1,1)">8</text>
<text transform="translate(208.10,386.95) scale(1.1,1)">11</text>
<text transform="translate(224.97,386.95) scale(1.1,1)">7</text>
<text transform="translate(241.84,386.95) scale(1.1,1)">9</text>
<text transform="translate(258.72,386.95) scale(1.1,1)">6</text>
<text transform="translate(275.59,386.95) scale(1.1,1)">7</text>
<text transform="translate(292.46,386.95) scale(1.1,1)">5</text>
<text transform="translate(56.24,402.65) scale(1.1,1)">0</text>
<text transform="translate(73.11,402.65) scale(1.1,1)">3</text>
<text transform="translate(89.98,402.65) scale(1.1,1)">3</text>
<text transform="translate(106.86,402.65) scale(1.1,1)">5</text>
<text transform="translate(123.73,402.65) scale(1.1,1)">5</text>
<text transform="translate(140.60,402.65) scale(1.1,1)">10</text>
<text transform="translate(157.48,402.65) scale(1.1,1)">15</text>
<text transform="translate(174.35,402.65) scale(1.1,1)">12</text>
<text transform="translate(191.22,402.65) scale(1.1,1)">11</text>
<text transform="translate(208.10,402.65) scale(1.1,1)">14</text>
<text transform="translate(224.97,402.65) scale(1.1,1)">4</text>
<text transform="translate(241.84,402.65) scale(1.1,1)">10</text>
<text transform="translate(258.72,402.65) scale(1.1,1)">2</text>
<text transform="translate(275.59,402.65) scale(1.1,1)">5</text>
<text transform="translate(292.46,402.65) scale(1.1,1)">5</text>
<text transform="translate(56.24,418.35) scale(1.1,1)">0</text>
<text transform="translate(73.11,418.35) scale(1.1,1)">1</text>
<text transform="translate(89.98,418.35) scale(1.1,1)">5</text>
<text transform="translate(106.86,418.35) scale(1.1,1)">8</text>
<text transform="translate(123.73,418.35) scale(1.1,1)">10</text>
<text transform="translate(140.60,418.35) scale(1.1,1)">16</text>
<text transform="translate(157.48,418.35) scale(1.1,1)">13</text>
<text transform="translate(174.35,418.35) scale(1.1,1)">12</text>
<text transform="translate(191.22,418.35) scale(1.1,1)">12</text>
<text transform="translate(208.10,418.35) scale(1.1,1)">10</text>
<text transform="translate(224.97,418.35) scale(1.1,1)">17</text>
<text transform="translate(241.84,418.35) scale(1.1,1)">9</text>
<text transform="translate(258.72,418.35) scale(1.1,1)">5</text>
<text transform="translate(275.59,418.35) scale(1.1,1)">6</text>
<text transform="translate(292.46,418.35) scale(1.1,1)">4</text>
<text transform="translate(56.24,434.05) scale(1.1,1)">0</text>
<text transform="translate(73.11,434.05) scale(1.1,1)">1</text>
<text transform="translate(89.98,434.05) scale(1.1,1)">2</text>
<text transform="translate(106.86,434.05) scale(1.1,1)">9</text>
<text transform="translate(123.73,434.05) scale(1.1,1)">16</text>
<text transform="translate(140.60,434.05) scale(1.1,1)">14</text>
<text transform="translate(157.48,434.05) scale(1.1,1)">13</text>
<text transform="translate(174.35,434.05) scale(1.1,1)">20</text>
<text transform="translate(191.22,434.05) scale(1.1,1)">19</text>
<text transform="translate(208.10,434.05) scale(1.1,1)">15</text>
<text transform="translate(224.97,434.05) scale(1.1,1)">13</text>
<text transform="translate(241.84,434.05) scale(1.1,1)">8</text>
<text transform="translate(258.72,434.05) scale(1.1,1)">9</text>
<text transform="translate(275.59,434.05) scale(1.1,1)">7</text>
<text transform="translate(292.46,434.05) scale(1.1,1)">4</text>
<text transform="translate(56.24,449.75) scale(1.1,1)">1</text>
<text transform="translate(73.11,449.75) scale(1.1,1)">0</text>
<text transform="translate(89.98,449.75) scale(1.1,1)">7</text>
<text transform="translate(106.86,449.75) scale(1.1,1)">8</text>
<text transform="translate(123.73,449.75) scale(1.1,1)">21</text>
<text transform="translate(140.60,449.75) scale(1.1,1)">14</text>
<text transform="translate(157.48,449.75) scale(1.1,1)">12</text>
<text transform="translate(174.35,449.75) scale(1.1,1)">18</text>
<text transform="translate(191.22,449.75) scale(1.1,1)">17</text>
<text transform="translate(208.10,449.75) scale(1.1,1)">16</text>
<text transform="translate(224.97,449.75) scale(1.1,1)">22</text>
<text transform="translate(241.84,449.75) scale(1.1,1)">13</text>
<text transform="translate(258.72,449.75) scale(1.1,1)">12</text>
<text transform="translate(275.59,449.75) scale(1.1,1)">11</text>
<text transform="translate(292.46,449.75) scale(1.1,1)">5</text>
<text transform="translate(56.24,465.45) scale(1.1,1)">0</text>
<text transform="translate(73.11,465.45) scale(1.1,1)">2</text>
<text transform="translate(89.98,465.45) scale(1.1,1)">8</text>
<text transform="translate(106.86,465.45) scale(1.1,1)">7</text>
<text transform="translate(123.73,465.45) scale(1.1,1)">16</text>
<text transform="translate(140.60,465.45) scale(1.1,1)">21</text>
<text transform="translate(157.48,465.45) scale(1.1,1)">32</text>
<text transform="translate(174.35,465.45) scale(1.1,1)">34</text>
<text transform="translate(191.22,465.45) scale(1.1,1)">26</text>
<text transform="translate(208.10,465.45) scale(1.1,1)">23</text>
<text transform="translate(224.97,465.45) scale(1.1,1)">18</text>
<text transform="translate(241.84,465.45) scale(1.1,1)">13</text>
<text transform="translate(258.72,465.45) scale(1.1,1)">13</text>
<text transform="translate(275.59,465.45) scale(1.1,1)">6</text>
<text transform="translate(292.46,465.45) scale(1.1,1)">4</text>
<text transform="translate(56.24,481.15) scale(1.1,1)">1873</text>
<text transform="translate(73.11,481.15) scale(1.1,1)">1496</text>
<text transform="translate(89.98,481.15) scale(1.1,1)">1560</text>
<text transform="translate(106.86,481.15) scale(1.1,1)">1388</text>
<text transform="translate(123.73,481.15) scale(1.1,1)">1277</text>
<text transform="translate(140.60,481.15) scale(1.1,1)">1146</text>
<text transform="translate(157.48,481.15) scale(1.1,1)">924</text>
<text transform="translate(174.35,481.15) scale(1.1,1)">669</text>
<text transform="translate(191.22,481.15) scale(1.1,1)">580</text>
<text transform="translate(208.10,481.15) scale(1.1,1)">380</text>
<text transform="translate(224.97,481.15) scale(1.1,1)">249</text>
<text transform="translate(241.84,481.15) scale(1.1,1)">137</text>
<text transform="translate(258.72,481.15) scale(1.1,1)">76</text>
<text transform="translate(275.59,481.15) scale(1.1,1)">32</text>
<text transform="translate(292.46,481.15) scale(1.1,1)">22</text>
</g>
<rect x="47.80" y="267.00" width="253.10" height="219.80" fill="none" stroke="#000" stroke-width="1.5"/>
<g shape-rendering="crispEdges">
<rect x="47.80" y="532.20" width="16.87" height="15.70" fill="#808080"/>
<rect x="64.67" y="532.20" width="16.87" height="15.70" fill="#808080"/>
<rect x="81.55" y="532.20" width="16.87" height="15.70" fill="#808080"/>
<rect x="98.42" y="532.20" width="16.87" height="15.70" fill="#808080"/>
<rect x="115.29" y="532.20" width="16.87" height="15.70" fill="#808080"/>
<rect x="132.17" y="532.20" width="16.87" height="15.70" fill="#808080"/>
<rect x="149.04" y="532.20" width="16.87" height="15.70" fill="#808080"/>
<rect x="165.91" y="532.20" width="16.87" height="15.70" fill="#808080"/>
<rect x="182.79" y="532.20" width="16.87" height="15.70" fill="#808080"/>
<rect x="199.66" y="532.20" width="16.87" height="15.70" fill="#bfdceb"/>
<rect x="216.53" y="532.20" width="16.87" height="15.70" fill="#808080"/>
<rect x="233.41" y="532.20" width="16.87" height="15.70" fill="#facbb2"/>
<rect x="250.28" y="532.20" width="16.87" height="15.70" fill="#2368ad"/>
<rect x="267.15" y="532.20" width="16.87" height="15.70" fill="#f4a582"/>
<rect x="284.03" y="532.20" width="16.87" height="15.70" fill="#808080"/>
<rect x="47.80" y="547.90" width="16.87" height="15.70" fill="#808080"/>
<rect x="64.67" y="547.90" width="16.87" height="15.70" fill="#808080"/>
<rect x="81.55" y="547.90" width="16.87" height="15.70" fill="#808080"/>
<rect x="98.42" y="547.90" width="16.87" height="15.70" fill="#808080"/>
<rect x="115.29" y="547.90" width="16.87" height="15.70" fill="#808080"/>
<rect x="132.17" y="547.90" width="16.87" height="15.70" fill="#808080"/>
<rect x="149.04" y="547.90" width="16.87" height="15.70" fill="#fddbc7"/>
<rect x="165.91" y="547.90" width="16.87" height="15.70" fill="#808080"/>
<rect x="182.79" y="547.90" width="16.87" height="15.70" fill="#a0cce2"/>
<rect x="199.66" y="547.90" width="16.87" height="15.70" fill="#f8c0a4"/>
<rect x="216.53" y="547.90" width="16.87" height="15.70" fill="#808080"/>
<rect x="233.41" y="547.90" width="16.87" height="15.70" fill="#808080"/>
<rect x="250.28" y="547.90" width="16.87" height="15.70" fill="#bfdceb"/>
<rect x="267.15" y="547.90" width="16.87" height="15.70" fill="#93c6de"/>
<rect x="284.03" y="547.90" width="16.87" height="15.70" fill="#7cb7d6"/>
<rect x="47.80" y="563.60" width="16.87" height="15.70" fill="#808080"/>
<rect x="64.67" y="563.60" width="16.87" height="15.70" fill="#808080"/>
<rect x="81.55" y="563.60" width="16.87" height="15.70" fill="#808080"/>
<rect x="98.42" y="563.60" width="16.87" height="15.70" fill="#fddbc7"/>
<rect x="115.29" y="563.60" width="16.87" height="15.70" fill="#053061"/>
<rect x="132.17" y="563.60" width="16.87" height="15.70" fill="#808080"/>
<rect x="149.04" y="563.60" width="16.87" height="15.70" fill="#e8896d"/>
<rect x="165.91" y="563.60" width="16.87" height="15.70" fill="#808080"/>
<rect x="182.79" y="563.60" width="16.87" height="15.70" fill="#808080"/>
<rect x="199.66" y="563.60" width="16.87" height="15.70" fill="#fddbc7"/>
<rect x="216.53" y="563.60" width="16.87" height="15.70" fill="#a0cce2"/>
<rect x="233.41" y="563.60" width="16.87" height="15.70" fill="#808080"/>
<rect x="250.28" y="563.60" width="16.87" height="15.70" fill="#408fc1"/>
<rect x="267.15" y="563.60" width="16.87" height="15.70" fill="#bfdceb"/>
<rect x="284.03" y="563.60" width="16.87" height="15.70" fill="#808080"/>
<rect x="47.80" y="579.30" width="16.87" height="15.70" fill="#808080"/>
<rect x="64.67" y="579.30" width="16.87" height="15.70" fill="#808080"/>
<rect x="81.55" y="579.30" width="16.87" height="15.70" fill="#808080"/>
<rect x="98.42" y="579.30" width="16.87" height="15.70" fill="#808080"/>
<rect x="115.29" y="579.30" width="16.87" height="15.70" fill="#808080"/>
<rect x="132.17" y="579.30" width="16.87" height="15.70" fill="#808080"/>
<rect x="149.04" y="579.30" width="16.87" height="15.70" fill="#808080"/>
<rect x="165.91" y="579.30" width="16.87" height="15.70" fill="#808080"/>
<rect x="182.79" y="579.30" width="16.87" height="15.70" fill="#808080"/>
<rect x="199.66" y="579.30" width="16.87" height="15.70" fill="#808080"/>
<rect x="216.53" y="579.30" width="16.87" height="15.70" fill="#808080"/>
<rect x="233.41" y="579.30" width="16.87" height="15.70" fill="#808080"/>
<rect x="250.28" y="579.30" width="16.87" height="15.70" fill="#808080"/>
<rect x="267.15" y="579.30" width="16.87" height="15.70" fill="#808080"/>
<rect x="284.03" y="579.30" width="16.87" height="15.70" fill="#808080"/>
<rect x="47.80" y="595.00" width="16.87" height="15.70" fill="#808080"/>
<rect x="64.67" y="595.00" width="16.87" height="15.70" fill="#808080"/>
<rect x="81.55" y="595.00" width="16.87" height="15.70" fill="#408fc1"/>
<rect x="98.42" y="595.00" width="16.87" height="15.70" fill="#3a88bd"/>
<rect x="115.29" y="595.00" width="16.87" height="15.70" fill="#a0cce2"/>
<rect x="132.17" y="595.00" width="16.87" height="15.70" fill="#64a8ce"/>
<rect x="149.04" y="595.00" width="16.87" height="15.70" fill="#64a8ce"/>
<rect x="165.91" y="595.00" width="16.87" height="15.70" fill="#408fc1"/>
<rect x="182.79" y="595.00" width="16.87" height="15.70" fill="#8cc1dc"/>
<rect x="199.66" y="595.00" width="16.87" height="15.70" fill="#3a88bd"/>
<rect x="216.53" y="595.00" width="16.87" height="15.70" fill="#fddbc7"/>
<rect x="233.41" y="595.00" width="16.87" height="15.70" fill="#408fc1"/>
<rect x="250.28" y="595.00" width="16.87" height="15.70" fill="#93c6de"/>
<rect x="267.15" y="595.00" width="16.87" height="15.70" fill="#9b1127"/>
<rect x="284.03" y="595.00" width="16.87" height="15.70" fill="#808080"/>
<rect x="47.80" y="610.70" width="16.87" height="15.70" fill="#808080"/>
<rect x="64.67" y="610.70" width="16.87" height="15.70" fill="#c03539"/>
<rect x="81.55" y="610.70" width="16.87" height="15.70" fill="#808080"/>
<rect x="98.42" y="610.70" width="16.87" height="15.70" fill="#64a8ce"/>
<rect x="115.29" y="610.70" width="16.87" height="15.70" fill="#408fc1"/>
<rect x="132.17" y="610.70" width="16.87" height="15.70" fill="#bfdceb"/>
<rect x="149.04" y="610.70" width="16.87" height="15.70" fill="#e8dcd8"/>
<rect x="165.91" y="610.70" width="16.87" height="15.70" fill="#549ec9"/>
<rect x="182.79" y="610.70" width="16.87" height="15.70" fill="#93c6de"/>
<rect x="199.66" y="610.70" width="16.87" height="15.70" fill="#a0cce2"/>
<rect x="216.53" y="610.70" width="16.87" height="15.70" fill="#f6b090"/>
<rect x="233.41" y="610.70" width="16.87" height="15.70" fill="#bfdceb"/>
<rect x="250.28" y="610.70" width="16.87" height="15.70" fill="#f4a582"/>
<rect x="267.15" y="610.70" width="16.87" height="15.70" fill="#f9c5ab"/>
<rect x="284.03" y="610.70" width="16.87" height="15.70" fill="#c8433f"/>
<rect x="47.80" y="626.40" width="16.87" height="15.70" fill="#808080"/>
<rect x="64.67" y="626.40" width="16.87" height="15.70" fill="#808080"/>
<rect x="81.55" y="626.40" width="16.87" height="15.70" fill="#a0cce2"/>
<rect x="98.42" y="626.40" width="16.87" height="15.70" fill="#64a8ce"/>
<rect x="115.29" y="626.40" width="16.87" height="15.70" fill="#93c6de"/>
<rect x="132.17" y="626.40" width="16.87" height="15.70" fill="#549ec9"/>
<rect x="149.04" y="626.40" width="16.87" height="15.70" fill="#fbd0b9"/>
<rect x="165.91" y="626.40" width="16.87" height="15.70" fill="#dfe0e2"/>
<rect x="182.79" y="626.40" width="16.87" height="15.70" fill="#f6b090"/>
<rect x="199.66" y="626.40" width="16.87" height="15.70" fill="#bfdceb"/>
<rect x="216.53" y="626.40" width="16.87" height="15.70" fill="#b3d6e7"/>
<rect x="233.41" y="626.40" width="16.87" height="15.70" fill="#3a88bd"/>
<rect x="250.28" y="626.40" width="16.87" height="15.70" fill="#fddbc7"/>
<rect x="267.15" y="626.40" width="16.87" height="15.70" fill="#fddbc7"/>
<rect x="284.03" y="626.40" width="16.87" height="15.70" fill="#408fc1"/>
<rect x="47.80" y="642.10" width="16.87" height="15.70" fill="#808080"/>
<rect x="64.67" y="642.10" width="16.87" height="15.70" fill="#8cc1dc"/>
<rect x="81.55" y="642.10" width="16.87" height="15.70" fill="#d96752"/>
<rect x="98.42" y="642.10" width="16.87" height="15.70" fill="#808080"/>
<rect x="115.29" y="642.10" width="16.87" height="15.70" fill="#808080"/>
<rect x="132.17" y="642.10" width="16.87" height="15.70" fill="#7cb7d6"/>
<rect x="149.04" y="642.10" width="16.87" height="15.70" fill="#cb4a43"/>
<rect x="165.91" y="642.10" width="16.87" height="15.70" fill="#93c6de"/>
<rect x="182.79" y="642.10" width="16.87" height="15.70" fill="#93c6de"/>
<rect x="199.66" y="642.10" width="16.87" height="15.70" fill="#bfdceb"/>
<rect x="216.53" y="642.10" width="16.87" height="15.70" fill="#a0cce2"/>
<rect x="233.41" y="642.10" width="16.87" height="15.70" fill="#7cb7d6"/>
<rect x="250.28" y="642.10" width="16.87" height="15.70" fill="#7cb7d6"/>
<rect x="267.15" y="642.10" width="16.87" height="15.70" fill="#f6b090"/>
<rect x="284.03" y="642.10" width="16.87" height="15.70" fill="#fce1d1"/>
<rect x="47.80" y="657.80" width="16.87" height="15.70" fill="#808080"/>
<rect x="64.67" y="657.80" width="16.87" height="15.70" fill="#808080"/>
<rect x="81.55" y="657.80" width="16.87" height="15.70" fill="#b3d6e7"/>
<rect x="98.42" y="657.80" width="16.87" height="15.70" fill="#3a88bd"/>
<rect x="115.29" y="657.80" width="16.87" height="15.70" fill="#808080"/>
<rect x="132.17" y="657.80" width="16.87" height="15.70" fill="#bfdceb"/>
<rect x="149.04" y="657.80" width="16.87" height="15.70" fill="#a0cce2"/>
<rect x="165.91" y="657.80" width="16.87" height="15.70" fill="#64a8ce"/>
<rect x="182.79" y="657.80" width="16.87" height="15.70" fill="#e8896d"/>
<rect x="199.66" y="657.80" width="16.87" height="15.70" fill="#64a8ce"/>
<rect x="216.53" y="657.80" width="16.87" height="15.70" fill="#a0cce2"/>
<rect x="233.41" y="657.80" width="16.87" height="15.70" fill="#67001f"/>
<rect x="250.28" y="657.80" width="16.87" height="15.70" fill="#3a88bd"/>
<rect x="267.15" y="657.80" width="16.87" height="15.70" fill="#bfdceb"/>
<rect x="284.03" y="657.80" width="16.87" height="15.70" fill="#f6b090"/>
<rect x="47.80" y="673.50" width="16.87" height="15.70" fill="#808080"/>
<rect x="64.67" y="673.50" width="16.87" height="15.70" fill="#317cb7"/>
<rect x="81.55" y="673.50" width="16.87" height="15.70" fill="#3a88bd"/>
<rect x="98.42" y="673.50" width="16.87" height="15.70" fill="#bfdceb"/>
<rect x="115.29" y="673.50" width="16.87" height="15.70" fill="#b3d6e7"/>
<rect x="132.17" y="673.50" width="16.87" height="15.70" fill="#6cadd1"/>
<rect x="149.04" y="673.50" width="16.87" height="15.70" fill="#a0cce2"/>
<rect x="165.91" y="673.50" width="16.87" height="15.70" fill="#3a88bd"/>
<rect x="182.79" y="673.50" width="16.87" height="15.70" fill="#bfdceb"/>
<rect x="199.66" y="673.50" width="16.87" height="15.70" fill="#bfdceb"/>
<rect x="216.53" y="673.50" width="16.87" height="15.70" fill="#bfdceb"/>
<rect x="233.41" y="673.50" width="16.87" height="15.70" fill="#cce2ef"/>
<rect x="250.28" y="673.50" width="16.87" height="15.70" fill="#e58268"/>
<rect x="267.15" y="673.50" width="16.87" height="15.70" fill="#df755d"/>
<rect x="284.03" y="673.50" width="16.87" height="15.70" fill="#7cb7d6"/>
<rect x="47.80" y="689.20" width="16.87" height="15.70" fill="#808080"/>
<rect x="64.67" y="689.20" width="16.87" height="15.70" fill="#808080"/>
<rect x="81.55" y="689.20" width="16.87" height="15.70" fill="#408fc1"/>
<rect x="98.42" y="689.20" width="16.87" height="15.70" fill="#fddbc7"/>
<rect x="115.29" y="689.20" width="16.87" height="15.70" fill="#fddbc7"/>
<rect x="132.17" y="689.20" width="16.87" height="15.70" fill="#4594c4"/>
<rect x="149.04" y="689.20" width="16.87" height="15.70" fill="#93c6de"/>
<rect x="165.91" y="689.20" width="16.87" height="15.70" fill="#facbb2"/>
<rect x="182.79" y="689.20" width="16.87" height="15.70" fill="#fddbc7"/>
<rect x="199.66" y="689.20" width="16.87" height="15.70" fill="#f4a582"/>
<rect x="216.53" y="689.20" width="16.87" height="15.70" fill="#f6b090"/>
<rect x="233.41" y="689.20" width="16.87" height="15.70" fill="#bfdceb"/>
<rect x="250.28" y="689.20" width="16.87" height="15.70" fill="#3a88bd"/>
<rect x="267.15" y="689.20" width="16.87" height="15.70" fill="#fce1d1"/>
<rect x="284.03" y="689.20" width="16.87" height="15.70" fill="#f9c5ab"/>
<rect x="47.80" y="704.90" width="16.87" height="15.70" fill="#053061"/>
<rect x="64.67" y="704.90" width="16.87" height="15.70" fill="#549ec9"/>
<rect x="81.55" y="704.90" width="16.87" height="15.70" fill="#808080"/>
<rect x="98.42" y="704.90" width="16.87" height="15.70" fill="#93c6de"/>
<rect x="115.29" y="704.90" width="16.87" height="15.70" fill="#cce2ef"/>
<rect x="132.17" y="704.90" width="16.87" height="15.70" fill="#93c6de"/>
<rect x="149.04" y="704.90" width="16.87" height="15.70" fill="#dddfe1"/>
<rect x="165.91" y="704.90" width="16.87" height="15.70" fill="#bfdceb"/>
<rect x="182.79" y="704.90" width="16.87" height="15.70" fill="#bfdceb"/>
<rect x="199.66" y="704.90" width="16.87" height="15.70" fill="#fce1d1"/>
<rect x="216.53" y="704.90" width="16.87" height="15.70" fill="#f9c5ab"/>
<rect x="233.41" y="704.90" width="16.87" height="15.70" fill="#bfdceb"/>
<rect x="250.28" y="704.90" width="16.87" height="15.70" fill="#cce2ef"/>
<rect x="267.15" y="704.90" width="16.87" height="15.70" fill="#7cb7d6"/>
<rect x="284.03" y="704.90" width="16.87" height="15.70" fill="#e0e0e0"/>
<rect x="47.80" y="720.60" width="16.87" height="15.70" fill="#808080"/>
<rect x="64.67" y="720.60" width="16.87" height="15.70" fill="#8cc1dc"/>
<rect x="81.55" y="720.60" width="16.87" height="15.70" fill="#4594c4"/>
<rect x="98.42" y="720.60" width="16.87" height="15.70" fill="#fddbc7"/>
<rect x="115.29" y="720.60" width="16.87" height="15.70" fill="#cce2ef"/>
<rect x="132.17" y="720.60" width="16.87" height="15.70" fill="#a6cfe4"/>
<rect x="149.04" y="720.60" width="16.87" height="15.70" fill="#b3d6e7"/>
<rect x="165.91" y="720.60" width="16.87" height="15.70" fill="#facbb2"/>
<rect x="182.79" y="720.60" width="16.87" height="15.70" fill="#bfdceb"/>
<rect x="199.66" y="720.60" width="16.87" height="15.70" fill="#fbe3d5"/>
<rect x="216.53" y="720.60" width="16.87" height="15.70" fill="#a0cce2"/>
<rect x="233.41" y="720.60" width="16.87" height="15.70" fill="#f9c5ab"/>
<rect x="250.28" y="720.60" width="16.87" height="15.70" fill="#f9c5ab"/>
<rect x="267.15" y="720.60" width="16.87" height="15.70" fill="#f8bb9e"/>
<rect x="284.03" y="720.60" width="16.87" height="15.70" fill="#a0cce2"/>
<rect x="47.80" y="736.30" width="16.87" height="15.70" fill="#a0cce2"/>
<rect x="64.67" y="736.30" width="16.87" height="15.70" fill="#b3d6e7"/>
<rect x="81.55" y="736.30" width="16.87" height="15.70" fill="#b3d6e7"/>
<rect x="98.42" y="736.30" width="16.87" height="15.70" fill="#cce2ef"/>
<rect x="115.29" y="736.30" width="16.87" height="15.70" fill="#fce1d1"/>
<rect x="132.17" y="736.30" width="16.87" height="15.70" fill="#fddbc7"/>
<rect x="149.04" y="736.30" width="16.87" height="15.70" fill="#fbd0b9"/>
<rect x="165.91" y="736.30" width="16.87" height="15.70" fill="#fbd0b9"/>
<rect x="182.79" y="736.30" width="16.87" height="15.70" fill="#f8bb9e"/>
<rect x="199.66" y="736.30" width="16.87" height="15.70" fill="#f8c0a4"/>
<rect x="216.53" y="736.30" width="16.87" height="15.70" fill="#f6b090"/>
<rect x="233.41" y="736.30" width="16.87" height="15.70" fill="#f4a582"/>
<rect x="250.28" y="736.30" width="16.87" height="15.70" fill="#f6b090"/>
<rect x="267.15" y="736.30" width="16.87" height="15.70" fill="#f4a582"/>
<rect x="284.03" y="736.30" width="16.87" height="15.70" fill="#9b1127"/>
</g>
<g font-size="7.1" text-anchor="middle" fill="#000" stroke="#000" stroke-width="0.08">
<text transform="translate(56.24,542.25) scale(1.1,1)">0</text>
<text transform="translate(73.11,542.25) scale(1.1,1)">0</text>
<text transform="translate(89.98,542.25) scale(1.1,1)">0</text>
<text transform="translate(106.86,542.25) scale(1.1,1)">0</text>
<text transform="translate(123.73,542.25) scale(1.1,1)">0</text>
<text transform="translate(140.60,542.25) scale(1.1,1)">0</text>
<text transform="translate(157.48,542.25) scale(1.1,1)">0</text>
<text transform="translate(174.35,542.25) scale(1.1,1)">0</text>
<text transform="translate(191.22,542.25) scale(1.1,1)">0</text>
<text transform="translate(208.10,542.25) scale(1.1,1)">1</text>
<text transform="translate(224.97,542.25) scale(1.1,1)">0</text>
<text transform="translate(241.84,542.25) scale(1.1,1)">3</text>
<text transform="translate(258.72,542.25) scale(1.1,1)">1</text>
<text transform="translate(275.59,542.25) scale(1.1,1)">1</text>
<text transform="translate(292.46,542.25) scale(1.1,1)">0</text>
<text transform="translate(56.24,557.95) scale(1.1,1)">0</text>
<text transform="translate(73.11,557.95) scale(1.1,1)">0</text>
<text transform="translate(89.98,557.95) scale(1.1,1)">0</text>
<text transform="translate(106.86,557.95) scale(1.1,1)">0</text>
<text transform="translate(123.73,557.95) scale(1.1,1)">0</text>
<text transform="translate(140.60,557.95) scale(1.1,1)">0</text>
<text transform="translate(157.48,557.95) scale(1.1,1)">1</text>
<text transform="translate(174.35,557.95) scale(1.1,1)">0</text>
<text transform="translate(191.22,557.95) scale(1.1,1)">3</text>
<text transform="translate(208.10,557.95) scale(1.1,1)">1</text>
<text transform="translate(224.97,557.95) scale(1.1,1)">0</text>
<text transform="translate(241.84,557.95) scale(1.1,1)">0</text>
<text transform="translate(258.72,557.95) scale(1.1,1)">1</text>
<text transform="translate(275.59,557.95) scale(1.1,1)">3</text>
<text transform="translate(292.46,557.95) scale(1.1,1)">1</text>
<text transform="translate(56.24,573.65) scale(1.1,1)">0</text>
<text transform="translate(73.11,573.65) scale(1.1,1)">0</text>
<text transform="translate(89.98,573.65) scale(1.1,1)">0</text>
<text transform="translate(106.86,573.65) scale(1.1,1)">1</text>
<text transform="translate(123.73,573.65) scale(1.1,1)">1</text>
<text transform="translate(140.60,573.65) scale(1.1,1)">0</text>
<text transform="translate(157.48,573.65) scale(1.1,1)">1</text>
<text transform="translate(174.35,573.65) scale(1.1,1)">0</text>
<text transform="translate(191.22,573.65) scale(1.1,1)">0</text>
<text transform="translate(208.10,573.65) scale(1.1,1)">1</text>
<text transform="translate(224.97,573.65) scale(1.1,1)">3</text>
<text transform="translate(241.84,573.65) scale(1.1,1)">0</text>
<text transform="translate(258.72,573.65) scale(1.1,1)">3</text>
<text transform="translate(275.59,573.65) scale(1.1,1)">1</text>
<text transform="translate(292.46,573.65) scale(1.1,1)">0</text>
<text transform="translate(56.24,589.35) scale(1.1,1)">0</text>
<text transform="translate(73.11,589.35) scale(1.1,1)">0</text>
<text transform="translate(89.98,589.35) scale(1.1,1)">0</text>
<text transform="translate(106.86,589.35) scale(1.1,1)">0</text>
<text transform="translate(123.73,589.35) scale(1.1,1)">0</text>
<text transform="translate(140.60,589.35) scale(1.1,1)">0</text>
<text transform="translate(157.48,589.35) scale(1.1,1)">0</text>
<text transform="translate(174.35,589.35) scale(1.1,1)">0</text>
<text transform="translate(191.22,589.35) scale(1.1,1)">0</text>
<text transform="translate(208.10,589.35) scale(1.1,1)">0</text>
<text transform="translate(224.97,589.35) scale(1.1,1)">0</text>
<text transform="translate(241.84,589.35) scale(1.1,1)">0</text>
<text transform="translate(258.72,589.35) scale(1.1,1)">0</text>
<text transform="translate(275.59,589.35) scale(1.1,1)">0</text>
<text transform="translate(292.46,589.35) scale(1.1,1)">0</text>
<text transform="translate(56.24,605.05) scale(1.1,1)">0</text>
<text transform="translate(73.11,605.05) scale(1.1,1)">0</text>
<text transform="translate(89.98,605.05) scale(1.1,1)">1</text>
<text transform="translate(106.86,605.05) scale(1.1,1)">2</text>
<text transform="translate(123.73,605.05) scale(1.1,1)">4</text>
<text transform="translate(140.60,605.05) scale(1.1,1)">2</text>
<text transform="translate(157.48,605.05) scale(1.1,1)">3</text>
<text transform="translate(174.35,605.05) scale(1.1,1)">2</text>
<text transform="translate(191.22,605.05) scale(1.1,1)">4</text>
<text transform="translate(208.10,605.05) scale(1.1,1)">1</text>
<text transform="translate(224.97,605.05) scale(1.1,1)">2</text>
<text transform="translate(241.84,605.05) scale(1.1,1)">4</text>
<text transform="translate(258.72,605.05) scale(1.1,1)">2</text>
<text transform="translate(275.59,605.05) scale(1.1,1)">1</text>
<text transform="translate(292.46,605.05) scale(1.1,1)">0</text>
<text transform="translate(56.24,620.75) scale(1.1,1)">0</text>
<text transform="translate(73.11,620.75) scale(1.1,1)">1</text>
<text transform="translate(89.98,620.75) scale(1.1,1)">0</text>
<text transform="translate(106.86,620.75) scale(1.1,1)">4</text>
<text transform="translate(123.73,620.75) scale(1.1,1)">1</text>
<text transform="translate(140.60,620.75) scale(1.1,1)">8</text>
<text transform="translate(157.48,620.75) scale(1.1,1)">6</text>
<text transform="translate(174.35,620.75) scale(1.1,1)">5</text>
<text transform="translate(191.22,620.75) scale(1.1,1)">3</text>
<text transform="translate(208.10,620.75) scale(1.1,1)">10</text>
<text transform="translate(224.97,620.75) scale(1.1,1)">5</text>
<text transform="translate(241.84,620.75) scale(1.1,1)">7</text>
<text transform="translate(258.72,620.75) scale(1.1,1)">5</text>
<text transform="translate(275.59,620.75) scale(1.1,1)">3</text>
<text transform="translate(292.46,620.75) scale(1.1,1)">5</text>
<text transform="translate(56.24,636.45) scale(1.1,1)">0</text>
<text transform="translate(73.11,636.45) scale(1.1,1)">0</text>
<text transform="translate(89.98,636.45) scale(1.1,1)">2</text>
<text transform="translate(106.86,636.45) scale(1.1,1)">3</text>
<text transform="translate(123.73,636.45) scale(1.1,1)">3</text>
<text transform="translate(140.60,636.45) scale(1.1,1)">5</text>
<text transform="translate(157.48,636.45) scale(1.1,1)">5</text>
<text transform="translate(174.35,636.45) scale(1.1,1)">5</text>
<text transform="translate(191.22,636.45) scale(1.1,1)">12</text>
<text transform="translate(208.10,636.45) scale(1.1,1)">3</text>
<text transform="translate(224.97,636.45) scale(1.1,1)">7</text>
<text transform="translate(241.84,636.45) scale(1.1,1)">3</text>
<text transform="translate(258.72,636.45) scale(1.1,1)">1</text>
<text transform="translate(275.59,636.45) scale(1.1,1)">4</text>
<text transform="translate(292.46,636.45) scale(1.1,1)">2</text>
<text transform="translate(56.24,652.15) scale(1.1,1)">0</text>
<text transform="translate(73.11,652.15) scale(1.1,1)">1</text>
<text transform="translate(89.98,652.15) scale(1.1,1)">1</text>
<text transform="translate(106.86,652.15) scale(1.1,1)">0</text>
<text transform="translate(123.73,652.15) scale(1.1,1)">0</text>
<text transform="translate(140.60,652.15) scale(1.1,1)">2</text>
<text transform="translate(157.48,652.15) scale(1.1,1)">3</text>
<text transform="translate(174.35,652.15) scale(1.1,1)">9</text>
<text transform="translate(191.22,652.15) scale(1.1,1)">5</text>
<text transform="translate(208.10,652.15) scale(1.1,1)">6</text>
<text transform="translate(224.97,652.15) scale(1.1,1)">3</text>
<text transform="translate(241.84,652.15) scale(1.1,1)">2</text>
<text transform="translate(258.72,652.15) scale(1.1,1)">5</text>
<text transform="translate(275.59,652.15) scale(1.1,1)">6</text>
<text transform="translate(292.46,652.15) scale(1.1,1)">4</text>
<text transform="translate(56.24,667.85) scale(1.1,1)">0</text>
<text transform="translate(73.11,667.85) scale(1.1,1)">0</text>
<text transform="translate(89.98,667.85) scale(1.1,1)">1</text>
<text transform="translate(106.86,667.85) scale(1.1,1)">2</text>
<text transform="translate(123.73,667.85) scale(1.1,1)">0</text>
<text transform="translate(140.60,667.85) scale(1.1,1)">1</text>
<text transform="translate(157.48,667.85) scale(1.1,1)">1</text>
<text transform="translate(174.35,667.85) scale(1.1,1)">6</text>
<text transform="translate(191.22,667.85) scale(1.1,1)">6</text>
<text transform="translate(208.10,667.85) scale(1.1,1)">6</text>
<text transform="translate(224.97,667.85) scale(1.1,1)">7</text>
<text transform="translate(241.84,667.85) scale(1.1,1)">1</text>
<text transform="translate(258.72,667.85) scale(1.1,1)">1</text>
<text transform="translate(275.59,667.85) scale(1.1,1)">4</text>
<text transform="translate(292.46,667.85) scale(1.1,1)">1</text>
<text transform="translate(56.24,683.55) scale(1.1,1)">0</text>
<text transform="translate(73.11,683.55) scale(1.1,1)">1</text>
<text transform="translate(89.98,683.55) scale(1.1,1)">2</text>
<text transform="translate(106.86,683.55) scale(1.1,1)">2</text>
<text transform="translate(123.73,683.55) scale(1.1,1)">5</text>
<text transform="translate(140.60,683.55) scale(1.1,1)">3</text>
<text transform="translate(157.48,683.55) scale(1.1,1)">9</text>
<text transform="translate(174.35,683.55) scale(1.1,1)">4</text>
<text transform="translate(191.22,683.55) scale(1.1,1)">4</text>
<text transform="translate(208.10,683.55) scale(1.1,1)">5</text>
<text transform="translate(224.97,683.55) scale(1.1,1)">10</text>
<text transform="translate(241.84,683.55) scale(1.1,1)">8</text>
<text transform="translate(258.72,683.55) scale(1.1,1)">5</text>
<text transform="translate(275.59,683.55) scale(1.1,1)">2</text>
<text transform="translate(292.46,683.55) scale(1.1,1)">3</text>
<text transform="translate(56.24,699.25) scale(1.1,1)">0</text>
<text transform="translate(73.11,699.25) scale(1.1,1)">0</text>
<text transform="translate(89.98,699.25) scale(1.1,1)">2</text>
<text transform="translate(106.86,699.25) scale(1.1,1)">4</text>
<text transform="translate(123.73,699.25) scale(1.1,1)">3</text>
<text transform="translate(140.60,699.25) scale(1.1,1)">4</text>
<text transform="translate(157.48,699.25) scale(1.1,1)">6</text>
<text transform="translate(174.35,699.25) scale(1.1,1)">6</text>
<text transform="translate(191.22,699.25) scale(1.1,1)">14</text>
<text transform="translate(208.10,699.25) scale(1.1,1)">6</text>
<text transform="translate(224.97,699.25) scale(1.1,1)">6</text>
<text transform="translate(241.84,699.25) scale(1.1,1)">7</text>
<text transform="translate(258.72,699.25) scale(1.1,1)">3</text>
<text transform="translate(275.59,699.25) scale(1.1,1)">4</text>
<text transform="translate(292.46,699.25) scale(1.1,1)">2</text>
<text transform="translate(56.24,714.95) scale(1.1,1)">1</text>
<text transform="translate(73.11,714.95) scale(1.1,1)">2</text>
<text transform="translate(89.98,714.95) scale(1.1,1)">0</text>
<text transform="translate(106.86,714.95) scale(1.1,1)">1</text>
<text transform="translate(123.73,714.95) scale(1.1,1)">7</text>
<text transform="translate(140.60,714.95) scale(1.1,1)">7</text>
<text transform="translate(157.48,714.95) scale(1.1,1)">15</text>
<text transform="translate(174.35,714.95) scale(1.1,1)">15</text>
<text transform="translate(191.22,714.95) scale(1.1,1)">9</text>
<text transform="translate(208.10,714.95) scale(1.1,1)">8</text>
<text transform="translate(224.97,714.95) scale(1.1,1)">10</text>
<text transform="translate(241.84,714.95) scale(1.1,1)">6</text>
<text transform="translate(258.72,714.95) scale(1.1,1)">6</text>
<text transform="translate(275.59,714.95) scale(1.1,1)">5</text>
<text transform="translate(292.46,714.95) scale(1.1,1)">4</text>
<text transform="translate(56.24,730.65) scale(1.1,1)">0</text>
<text transform="translate(73.11,730.65) scale(1.1,1)">1</text>
<text transform="translate(89.98,730.65) scale(1.1,1)">2</text>
<text transform="translate(106.86,730.65) scale(1.1,1)">6</text>
<text transform="translate(123.73,730.65) scale(1.1,1)">9</text>
<text transform="translate(140.60,730.65) scale(1.1,1)">15</text>
<text transform="translate(157.48,730.65) scale(1.1,1)">14</text>
<text transform="translate(174.35,730.65) scale(1.1,1)">11</text>
<text transform="translate(191.22,730.65) scale(1.1,1)">16</text>
<text transform="translate(208.10,730.65) scale(1.1,1)">16</text>
<text transform="translate(224.97,730.65) scale(1.1,1)">4</text>
<text transform="translate(241.84,730.65) scale(1.1,1)">10</text>
<text transform="translate(258.72,730.65) scale(1.1,1)">10</text>
<text transform="translate(275.59,730.65) scale(1.1,1)">5</text>
<text transform="translate(292.46,730.65) scale(1.1,1)">9</text>
<text transform="translate(56.24,746.35) scale(1.1,1)">1873</text>
<text transform="translate(73.11,746.35) scale(1.1,1)">1501</text>
<text transform="translate(89.98,746.35) scale(1.1,1)">1586</text>
<text transform="translate(106.86,746.35) scale(1.1,1)">1424</text>
<text transform="translate(123.73,746.35) scale(1.1,1)">1346</text>
<text transform="translate(140.60,746.35) scale(1.1,1)">1225</text>
<text transform="translate(157.48,746.35) scale(1.1,1)">1005</text>
<text transform="translate(174.35,746.35) scale(1.1,1)">767</text>
<text transform="translate(191.22,746.35) scale(1.1,1)">660</text>
<text transform="translate(208.10,746.35) scale(1.1,1)">460</text>
<text transform="translate(224.97,746.35) scale(1.1,1)">320</text>
<text transform="translate(241.84,746.35) scale(1.1,1)">194</text>
<text transform="translate(258.72,746.35) scale(1.1,1)">117</text>
<text transform="translate(275.59,746.35) scale(1.1,1)">69</text>
<text transform="translate(292.46,746.35) scale(1.1,1)">46</text>
</g>
<rect x="47.80" y="532.20" width="253.10" height="219.80" fill="none" stroke="#000" stroke-width="1.5"/>
<rect x="303.6" y="2.50" width="11.2" height="219.80" fill="url(#cb)" stroke="#000" stroke-width="1.3"/>
<text transform="translate(320.30,216.20) scale(1.2,1)" font-size="14.2" text-anchor="start" fill="#000" >1</text>
<text transform="translate(320.30,185.80) scale(1.2,1)" font-size="14.2" text-anchor="start" fill="#000" >2</text>
<text transform="translate(320.30,155.40) scale(1.2,1)" font-size="14.2" text-anchor="start" fill="#000" >3</text>
<text transform="translate(320.30,125.00) scale(1.2,1)" font-size="14.2" text-anchor="start" fill="#000" >4</text>
<text transform="translate(320.30,94.60) scale(1.2,1)" font-size="14.2" text-anchor="start" fill="#000" >5</text>
<text transform="translate(320.30,64.20) scale(1.2,1)" font-size="14.2" text-anchor="start" fill="#000" >6</text>
<text transform="translate(320.30,33.80) scale(1.2,1)" font-size="14.2" text-anchor="start" fill="#000" >7</text>
<rect x="303.6" y="267.00" width="11.2" height="219.80" fill="url(#cb)" stroke="#000" stroke-width="1.3"/>
<text transform="translate(320.30,480.80) scale(1.2,1)" font-size="14.2" text-anchor="start" fill="#000" >1</text>
<text transform="translate(320.30,449.00) scale(1.2,1)" font-size="14.2" text-anchor="start" fill="#000" >2</text>
<text transform="translate(320.30,417.20) scale(1.2,1)" font-size="14.2" text-anchor="start" fill="#000" >3</text>
<text transform="translate(320.30,385.40) scale(1.2,1)" font-size="14.2" text-anchor="start" fill="#000" >4</text>
<text transform="translate(320.30,353.60) scale(1.2,1)" font-size="14.2" text-anchor="start" fill="#000" >5</text>
<text transform="translate(320.30,321.80) scale(1.2,1)" font-size="14.2" text-anchor="start" fill="#000" >6</text>
<text transform="translate(320.30,290.00) scale(1.2,1)" font-size="14.2" text-anchor="start" fill="#000" >7</text>
<rect x="303.6" y="532.20" width="11.2" height="219.80" fill="url(#cb)" stroke="#000" stroke-width="1.3"/>
<text transform="translate(320.30,744.70) scale(1.2,1)" font-size="14.2" text-anchor="start" fill="#000" >1</text>
<text transform="translate(320.30,712.37) scale(1.2,1)" font-size="14.2" text-anchor="start" fill="#000" >2</text>
<text transform="translate(320.30,680.03) scale(1.2,1)" font-size="14.2" text-anchor="start" fill="#000" >3</text>
<text transform="translate(320.30,647.70) scale(1.2,1)" font-size="14.2" text-anchor="start" fill="#000" >4</text>
<text transform="translate(320.30,615.37) scale(1.2,1)" font-size="14.2" text-anchor="start" fill="#000" >5</text>
<text transform="translate(320.30,583.03) scale(1.2,1)" font-size="14.2" text-anchor="start" fill="#000" >6</text>
<text transform="translate(320.30,550.70) scale(1.2,1)" font-size="14.2" text-anchor="start" fill="#000" >7</text>
<g transform="translate(344.50,145.00) rotate(-90)"><text transform="translate(-2.20,0.00) scale(1.1,1)" font-size="14.2" font-style="italic">T</text><text transform="translate(7.60,2.80) scale(1.2,1)" font-size="10.5" font-style="italic">p</text><text transform="translate(19.80,0.00) scale(1.13,1)" font-size="14.2">(</text><text transform="translate(24.00,0.00) scale(1.15,1)" font-size="14.2">10</text><text transform="translate(40.90,-5.00) scale(1.2,1)" font-size="10.0">5</text><text transform="translate(50.30,0.00) scale(0.8,1)" font-size="14.2" font-style="italic">K</text><text transform="translate(60.90,0.00) scale(1.13,1)" font-size="14.2">)</text><path d="M1.3,-11.6 C2.2,-13.2 3.2,-13.0 3.8,-12.4 S5.4,-11.6 6.3,-13.2" fill="none" stroke="#000" stroke-width="0.8"/></g>
<g transform="translate(344.50,409.50) rotate(-90)"><text transform="translate(-2.20,0.00) scale(1.1,1)" font-size="14.2" font-style="italic">T</text><text transform="translate(7.60,2.80) scale(1.2,1)" font-size="10.5" font-style="italic">p</text><text transform="translate(19.80,0.00) scale(1.13,1)" font-size="14.2">(</text><text transform="translate(24.00,0.00) scale(1.15,1)" font-size="14.2">10</text><text transform="translate(40.90,-5.00) scale(1.2,1)" font-size="10.0">5</text><text transform="translate(50.30,0.00) scale(0.8,1)" font-size="14.2" font-style="italic">K</text><text transform="translate(60.90,0.00) scale(1.13,1)" font-size="14.2">)</text><path d="M1.3,-11.6 C2.2,-13.2 3.2,-13.0 3.8,-12.4 S5.4,-11.6 6.3,-13.2" fill="none" stroke="#000" stroke-width="0.8"/></g>
<g transform="translate(344.50,674.70) rotate(-90)"><text transform="translate(-2.20,0.00) scale(1.1,1)" font-size="14.2" font-style="italic">T</text><text transform="translate(7.60,2.80) scale(1.2,1)" font-size="10.5" font-style="italic">p</text><text transform="translate(19.80,0.00) scale(1.13,1)" font-size="14.2">(</text><text transform="translate(24.00,0.00) scale(1.15,1)" font-size="14.2">10</text><text transform="translate(40.90,-5.00) scale(1.2,1)" font-size="10.0">5</text><text transform="translate(50.30,0.00) scale(0.8,1)" font-size="14.2" font-style="italic">K</text><text transform="translate(60.90,0.00) scale(1.13,1)" font-size="14.2">)</text><path d="M1.3,-11.6 C2.2,-13.2 3.2,-13.0 3.8,-12.4 S5.4,-11.6 6.3,-13.2" fill="none" stroke="#000" stroke-width="0.8"/></g>
<text transform="translate(41.80,204.30) scale(1.2,1)" font-size="14.2" text-anchor="end" fill="#000" >1.0</text>
<text transform="translate(41.80,174.30) scale(1.2,1)" font-size="14.2" text-anchor="end" fill="#000" >2.0</text>
<text transform="translate(41.80,144.30) scale(1.2,1)" font-size="14.2" text-anchor="end" fill="#000" >3.0</text>
<text transform="translate(41.80,114.30) scale(1.2,1)" font-size="14.2" text-anchor="end" fill="#000" >4.0</text>
<text transform="translate(41.80,84.30) scale(1.2,1)" font-size="14.2" text-anchor="end" fill="#000" >5.0</text>
<text transform="translate(41.80,54.30) scale(1.2,1)" font-size="14.2" text-anchor="end" fill="#000" >6.0</text>
<text transform="translate(41.80,24.30) scale(1.2,1)" font-size="14.2" text-anchor="end" fill="#000" >7.0</text>
<text transform="translate(41.80,455.70) scale(1.2,1)" font-size="14.2" text-anchor="end" fill="#000" >1.0</text>
<text transform="translate(41.80,403.20) scale(1.2,1)" font-size="14.2" text-anchor="end" fill="#000" >2.0</text>
<text transform="translate(41.80,350.70) scale(1.2,1)" font-size="14.2" text-anchor="end" fill="#000" >3.0</text>
<text transform="translate(41.80,298.20) scale(1.2,1)" font-size="14.2" text-anchor="end" fill="#000" >4.0</text>
<text transform="translate(41.80,725.00) scale(1.2,1)" font-size="14.2" text-anchor="end" fill="#000" >1.0</text>
<text transform="translate(41.80,668.17) scale(1.2,1)" font-size="14.2" text-anchor="end" fill="#000" >2.0</text>
<text transform="translate(41.80,611.34) scale(1.2,1)" font-size="14.2" text-anchor="end" fill="#000" >3.0</text>
<text transform="translate(41.80,554.51) scale(1.2,1)" font-size="14.2" text-anchor="end" fill="#000" >4.0</text>
<text transform="translate(82.00,238.00) scale(1.2,1)" font-size="14.2" text-anchor="middle" fill="#000" >10</text>
<text transform="translate(124.32,238.00) scale(1.2,1)" font-size="14.2" text-anchor="middle" fill="#000" >20</text>
<text transform="translate(166.64,238.00) scale(1.2,1)" font-size="14.2" text-anchor="middle" fill="#000" >30</text>
<text transform="translate(208.96,238.00) scale(1.2,1)" font-size="14.2" text-anchor="middle" fill="#000" >40</text>
<text transform="translate(251.28,238.00) scale(1.2,1)" font-size="14.2" text-anchor="middle" fill="#000" >50</text>
<text transform="translate(293.60,238.00) scale(1.2,1)" font-size="14.2" text-anchor="middle" fill="#000" >60</text>
<text transform="translate(113.20,503.20) scale(1.2,1)" font-size="14.2" text-anchor="middle" fill="#000" >20</text>
<text transform="translate(187.90,503.20) scale(1.2,1)" font-size="14.2" text-anchor="middle" fill="#000" >40</text>
<text transform="translate(262.60,503.20) scale(1.2,1)" font-size="14.2" text-anchor="middle" fill="#000" >60</text>
<text transform="translate(113.20,768.20) scale(1.2,1)" font-size="14.2" text-anchor="middle" fill="#000" >20</text>
<text transform="translate(187.90,768.20) scale(1.2,1)" font-size="14.2" text-anchor="middle" fill="#000" >40</text>
<text transform="translate(262.60,768.20) scale(1.2,1)" font-size="14.2" text-anchor="middle" fill="#000" >60</text>
<g transform="translate(133.50,256.50)"><text transform="translate(6.00,2.30) scale(1.02,1)" font-size="13.0" font-style="italic">PVI</text><text transform="translate(29.90,2.30) scale(1.22,1)" font-size="12.0">&#8805;</text><text transform="translate(41.30,2.30) scale(1.1,1)" font-size="13.5">1</text><text transform="translate(54.40,-0.90) scale(0.975,1)" font-size="18.5">(</text><text transform="translate(61.00,0.00) scale(1.02,1)" font-size="18.5">%</text><text transform="translate(76.70,-0.90) scale(0.975,1)" font-size="18.5">)</text><path d="M8.6,-11.4 C8.0,-12.6 6.2,-12.8 5.0,-11.9 C4.2,-11.2 3.8,-9.8 3.4,-8.2 L1.2,1.4 C0.8,3.0 0.2,3.8 -0.6,3.8 C-1.0,3.8 -1.3,3.6 -1.4,3.3" fill="none" stroke="#000" stroke-width="1.25" stroke-linecap="round"/><path d="M0.9,-8.5 L6.6,-8.5" stroke="#000" stroke-width="0.9"/></g>
<g transform="translate(133.50,521.00)"><text transform="translate(6.00,2.30) scale(1.02,1)" font-size="13.0" font-style="italic">PVI</text><text transform="translate(29.90,2.30) scale(1.22,1)" font-size="12.0">&#8805;</text><text transform="translate(41.30,2.30) scale(1.1,1)" font-size="13.5">1</text><text transform="translate(54.40,-0.90) scale(0.975,1)" font-size="18.5">(</text><text transform="translate(61.00,0.00) scale(1.02,1)" font-size="18.5">%</text><text transform="translate(76.70,-0.90) scale(0.975,1)" font-size="18.5">)</text><path d="M8.6,-11.4 C8.0,-12.6 6.2,-12.8 5.0,-11.9 C4.2,-11.2 3.8,-9.8 3.4,-8.2 L1.2,1.4 C0.8,3.0 0.2,3.8 -0.6,3.8 C-1.0,3.8 -1.3,3.6 -1.4,3.3" fill="none" stroke="#000" stroke-width="1.25" stroke-linecap="round"/><path d="M0.9,-8.5 L6.6,-8.5" stroke="#000" stroke-width="0.9"/></g>
<g transform="translate(133.50,786.20)"><text transform="translate(6.00,2.30) scale(1.02,1)" font-size="13.0" font-style="italic">PVI</text><text transform="translate(29.90,2.30) scale(1.22,1)" font-size="12.0">&#8805;</text><text transform="translate(41.30,2.30) scale(1.1,1)" font-size="13.5">1</text><text transform="translate(54.40,-0.90) scale(0.975,1)" font-size="18.5">(</text><text transform="translate(61.00,0.00) scale(1.02,1)" font-size="18.5">%</text><text transform="translate(76.70,-0.90) scale(0.975,1)" font-size="18.5">)</text><path d="M8.6,-11.4 C8.0,-12.6 6.2,-12.8 5.0,-11.9 C4.2,-11.2 3.8,-9.8 3.4,-8.2 L1.2,1.4 C0.8,3.0 0.2,3.8 -0.6,3.8 C-1.0,3.8 -1.3,3.6 -1.4,3.3" fill="none" stroke="#000" stroke-width="1.25" stroke-linecap="round"/><path d="M0.9,-8.5 L6.6,-8.5" stroke="#000" stroke-width="0.9"/></g>
<g transform="translate(14.20,152.10) rotate(-90)"><text transform="translate(6.00,2.30) scale(1.02,1)" font-size="13.0" font-style="italic">PVI</text><text transform="translate(29.90,2.30) scale(1.22,1)" font-size="12.0">&#8805;</text><text transform="translate(41.30,2.30) scale(1.1,1)" font-size="13.5">4</text><text transform="translate(54.40,-0.90) scale(0.975,1)" font-size="18.5">(</text><text transform="translate(61.00,0.00) scale(1.02,1)" font-size="18.5">%</text><text transform="translate(76.70,-0.90) scale(0.975,1)" font-size="18.5">)</text><path d="M8.6,-11.4 C8.0,-12.6 6.2,-12.8 5.0,-11.9 C4.2,-11.2 3.8,-9.8 3.4,-8.2 L1.2,1.4 C0.8,3.0 0.2,3.8 -0.6,3.8 C-1.0,3.8 -1.3,3.6 -1.4,3.3" fill="none" stroke="#000" stroke-width="1.25" stroke-linecap="round"/><path d="M0.9,-8.5 L6.6,-8.5" stroke="#000" stroke-width="0.9"/></g>
<g transform="translate(14.20,416.60) rotate(-90)"><text transform="translate(6.00,2.30) scale(1.02,1)" font-size="13.0" font-style="italic">PVI</text><text transform="translate(29.90,2.30) scale(1.22,1)" font-size="12.0">&#8805;</text><text transform="translate(41.30,2.30) scale(1.1,1)" font-size="13.5">5</text><text transform="translate(54.40,-0.90) scale(0.975,1)" font-size="18.5">(</text><text transform="translate(61.00,0.00) scale(1.02,1)" font-size="18.5">%</text><text transform="translate(76.70,-0.90) scale(0.975,1)" font-size="18.5">)</text><path d="M8.6,-11.4 C8.0,-12.6 6.2,-12.8 5.0,-11.9 C4.2,-11.2 3.8,-9.8 3.4,-8.2 L1.2,1.4 C0.8,3.0 0.2,3.8 -0.6,3.8 C-1.0,3.8 -1.3,3.6 -1.4,3.3" fill="none" stroke="#000" stroke-width="1.25" stroke-linecap="round"/><path d="M0.9,-8.5 L6.6,-8.5" stroke="#000" stroke-width="0.9"/></g>
<g transform="translate(14.20,681.80) rotate(-90)"><text transform="translate(6.00,2.30) scale(1.02,1)" font-size="13.0" font-style="italic">PVI</text><text transform="translate(29.90,2.30) scale(1.22,1)" font-size="12.0">&#8805;</text><text transform="translate(41.30,2.30) scale(1.1,1)" font-size="13.5">6</text><text transform="translate(54.40,-0.90) scale(0.975,1)" font-size="18.5">(</text><text transform="translate(61.00,0.00) scale(1.02,1)" font-size="18.5">%</text><text transform="translate(76.70,-0.90) scale(0.975,1)" font-size="18.5">)</text><path d="M8.6,-11.4 C8.0,-12.6 6.2,-12.8 5.0,-11.9 C4.2,-11.2 3.8,-9.8 3.4,-8.2 L1.2,1.4 C0.8,3.0 0.2,3.8 -0.6,3.8 C-1.0,3.8 -1.3,3.6 -1.4,3.3" fill="none" stroke="#000" stroke-width="1.25" stroke-linecap="round"/><path d="M0.9,-8.5 L6.6,-8.5" stroke="#000" stroke-width="0.9"/></g>
</svg></body></html>
